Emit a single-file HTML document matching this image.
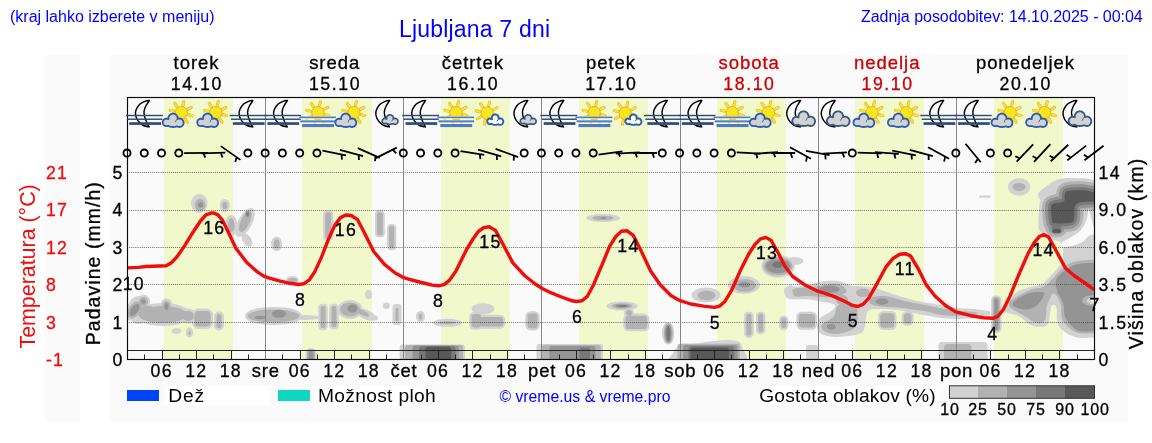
<!DOCTYPE html>
<html lang="sl"><head><meta charset="utf-8"><title>Ljubljana 7 dni</title>
<style>
html,body{margin:0;padding:0;background:#fff;}
body{width:1152px;height:443px;position:relative;overflow:hidden;font-family:"Liberation Sans", sans-serif;}
.hdr{position:absolute;color:#0000ff;white-space:nowrap;line-height:1;}
svg{position:absolute;left:0;top:0;will-change:transform;} svg text{font-family:"Liberation Sans", sans-serif;} .hdr{will-change:transform;}
</style></head><body>
<div class="hdr" style="left:10px;top:9px;font-size:16px;">(kraj lahko izberete v meniju)</div>
<div class="hdr" style="left:399px;top:18.1px;font-size:23px;letter-spacing:0.19px;">Ljubljana 7 dni</div>
<div class="hdr" style="left:861px;top:9px;font-size:16px;letter-spacing:-0.03px;">Zadnja posodobitev: 14.10.2025 - 00:04</div>
<svg width="1152" height="443" viewBox="0 0 1152 443">
<defs>
<clipPath id="sfclip"><rect x="-20" y="98" width="40" height="19"/></clipPath>
<g id="i_mf"><path d="M5.1,100.5C4.4,100.6 2.2,100.7 0.7,101.3C-0.9,101.9 -2.8,102.8 -4.2,104.0C-5.6,105.2 -6.7,106.9 -7.5,108.3C-8.3,109.7 -8.7,111.1 -8.8,112.6C-8.9,114.1 -8.6,115.8 -8.0,117.4C-7.4,119.0 -6.4,120.7 -5.2,122.0C-4.0,123.3 -2.5,124.7 -0.8,125.5C0.9,126.3 4.0,126.7 4.9,126.9L4.9,126.9C4.5,126.2 3.3,124.2 2.6,122.6C1.9,121.0 1.0,119.0 0.5,117.2C0.0,115.4 -0.4,113.6 -0.3,111.8C-0.1,110.0 0.5,108.1 1.4,106.2C2.3,104.3 4.5,101.5 5.1,100.5Z" fill="none" stroke="#000" stroke-width="1.45" stroke-linejoin="round"/><rect x="-18.3" y="114.78" width="36.90" height="1.45" fill="#2e4c74"/><rect x="-16.9" y="118.48" width="35.10" height="1.45" fill="#2e4c74"/><rect x="-15.0" y="122.20" width="31.70" height="2.70" fill="#2e4c74"/></g>
<g id="i_sc"><g><path d="M-5.13,111.10L-8.65,110.35M-2.02,106.39L-4.08,103.44M4.13,105.20L4.94,101.69M9.20,109.09L12.38,107.39M9.84,114.69L13.31,115.62M6.59,119.16L8.55,122.18M0.54,120.17L-0.33,123.66M-4.27,116.55L-7.39,118.35" stroke="#f2a31f" stroke-width="3.0" stroke-linecap="round" fill="none"/><path d="M-5.13,111.10L-8.65,110.35M-2.02,106.39L-4.08,103.44M4.13,105.20L4.94,101.69M9.20,109.09L12.38,107.39M9.84,114.69L13.31,115.62M6.59,119.16L8.55,122.18M0.54,120.17L-0.33,123.66M-4.27,116.55L-7.39,118.35" stroke="#f6e71d" stroke-width="2.1" stroke-linecap="round" fill="none"/><circle cx="2.4" cy="112.7" r="6.2" fill="#f6e71d" stroke="#f2a31f" stroke-width="0.9"/></g><polygon points="4.79,122.43 4.78,123.16 4.64,123.88 4.39,124.57 4.02,125.21 3.53,125.79 2.94,126.28 2.25,126.66 1.47,126.91 0.59,127.00 -0.40,126.88 -1.66,126.33 -2.13,126.39 -2.50,126.52 -2.87,126.63 -3.22,126.72 -3.57,126.80 -3.91,126.86 -4.24,126.91 -4.57,126.94 -4.90,126.97 -5.22,126.99 -5.54,127.00 -5.86,127.00 -6.18,126.99 -6.50,126.97 -6.83,126.94 -7.16,126.91 -7.49,126.86 -7.83,126.80 -8.18,126.72 -8.53,126.63 -8.90,126.52 -9.27,126.39 -9.65,126.24 -10.02,126.06 -10.40,125.84 -11.56,126.09 -12.74,126.17 -13.65,125.97 -14.40,125.59 -15.01,125.10 -15.48,124.51 -15.83,123.85 -16.03,123.15 -16.10,122.43 -16.03,121.71 -15.83,121.01 -15.48,120.35 -15.01,119.76 -14.40,119.26 -13.65,118.89 -12.74,118.68 -11.56,118.76 -10.33,119.06 -10.40,118.49 -10.39,117.90 -10.30,117.32 -10.14,116.74 -9.91,116.18 -9.61,115.66 -9.24,115.17 -8.81,114.74 -8.32,114.36 -7.79,114.06 -7.22,113.83 -6.62,113.67 -6.01,113.60 -5.39,113.62 -4.78,113.72 -4.20,113.89 -3.64,114.15 -3.12,114.48 -2.65,114.87 -2.23,115.32 -1.88,115.82 -1.60,116.36 -1.40,116.92 -1.26,117.50 -1.20,118.09 -1.22,118.67 -0.42,118.59 0.64,118.46 1.55,118.57 2.34,118.85 3.03,119.25 3.61,119.76 4.08,120.35 4.44,121.00 4.68,121.70" fill="#d2d2d2" stroke="#2a5cb2" stroke-width="1.80" stroke-linejoin="round"/><path d="M0.23,118.48A4.20,4.27 0 0 0 -3.51,121.84" fill="none" stroke="#2a5cb2" stroke-width="0.90" stroke-linecap="round"/></g>
<g id="i_sf"><g clip-path="url(#sfclip)"><path d="M-6.63,111.10L-10.15,110.35M-3.52,106.39L-5.58,103.44M2.63,105.20L3.44,101.69M7.70,109.09L10.88,107.39M8.34,114.69L11.81,115.62M5.09,119.16L7.05,122.18M-0.96,120.17L-1.83,123.66M-5.77,116.55L-8.89,118.35" stroke="#f2a31f" stroke-width="3.0" stroke-linecap="round" fill="none"/><path d="M-6.63,111.10L-10.15,110.35M-3.52,106.39L-5.58,103.44M2.63,105.20L3.44,101.69M7.70,109.09L10.88,107.39M8.34,114.69L11.81,115.62M5.09,119.16L7.05,122.18M-0.96,120.17L-1.83,123.66M-5.77,116.55L-8.89,118.35" stroke="#f6e71d" stroke-width="2.1" stroke-linecap="round" fill="none"/><circle cx="0.9" cy="112.7" r="6.2" fill="#f6e71d" stroke="#f2a31f" stroke-width="0.9"/></g><rect x="-13.5" y="116" width="32" height="8.5" fill="#f3f6e2"/><rect x="-11.5" y="118.7" width="3" height="1.1" fill="#f6e71d"/><rect x="-2.5" y="118.7" width="7" height="1.2" fill="#f4c21e"/><rect x="-3.5" y="122.6" width="2.2" height="1.1" fill="#f6e71d"/><rect x="5.5" y="122.6" width="2.2" height="1.1" fill="#f6e71d"/><rect x="-17.8" y="116.55" width="36.80" height="1.6" fill="#4e7bc4"/><rect x="-16.7" y="120.38" width="35.70" height="1.95" fill="#4e7bc4"/><rect x="-14.8" y="124.00" width="31.90" height="3.10" fill="#4e7bc4"/></g>
<g id="i_mc"><path d="M3.7,100.5C3.0,100.6 0.8,100.7 -0.7,101.3C-2.2,101.9 -4.2,102.8 -5.6,104.0C-7.0,105.2 -8.1,106.9 -8.9,108.3C-9.7,109.7 -10.1,111.1 -10.2,112.6C-10.3,114.1 -10.0,115.8 -9.4,117.4C-8.8,119.0 -7.8,120.7 -6.6,122.0C-5.4,123.3 -3.9,124.7 -2.2,125.5C-0.5,126.3 2.6,126.7 3.5,126.9L3.5,126.9C3.1,126.2 1.9,124.2 1.2,122.6C0.5,121.0 -0.4,119.0 -0.9,117.2C-1.4,115.4 -1.8,113.6 -1.7,111.8C-1.6,110.0 -0.9,108.1 0.0,106.2C0.9,104.3 3.1,101.5 3.7,100.5Z" fill="none" stroke="#000" stroke-width="1.45" stroke-linejoin="round"/><polygon points="11.99,121.09 11.98,121.65 11.86,122.19 11.62,122.71 11.29,123.18 10.86,123.58 10.34,123.91 9.74,124.13 9.06,124.24 8.29,124.20 7.32,123.86 6.81,123.80 6.53,123.89 6.26,123.97 6.00,124.03 5.74,124.09 5.50,124.13 5.26,124.17 5.02,124.20 4.79,124.22 4.57,124.23 4.34,124.24 4.12,124.25 3.90,124.25 3.68,124.24 3.46,124.23 3.23,124.22 3.00,124.20 2.77,124.17 2.53,124.13 2.28,124.09 2.03,124.03 1.76,123.97 1.49,123.89 1.21,123.80 0.92,123.68 0.63,123.55 0.34,123.39 -0.78,123.64 -1.67,123.62 -2.35,123.41 -2.90,123.07 -3.34,122.65 -3.65,122.17 -3.84,121.64 -3.90,121.09 -3.84,120.54 -3.65,120.01 -3.34,119.53 -2.90,119.11 -2.35,118.77 -1.67,118.56 -0.78,118.54 0.63,118.98 0.53,118.56 0.49,118.14 0.52,117.72 0.60,117.30 0.73,116.90 0.93,116.52 1.17,116.16 1.45,115.84 1.78,115.56 2.14,115.33 2.53,115.13 2.94,114.99 3.36,114.90 3.79,114.85 4.23,114.86 4.66,114.92 5.08,115.03 5.48,115.20 5.86,115.40 6.21,115.66 6.52,115.95 6.79,116.28 7.01,116.64 7.19,117.03 7.30,117.43 7.37,117.85 7.37,118.27 7.31,118.69 8.28,118.42 9.11,118.38 9.81,118.51 10.42,118.76 10.94,119.10 11.36,119.53 11.68,120.01 11.89,120.54" fill="#d2d2d2" stroke="#34577e" stroke-width="1.60" stroke-linejoin="round"/><path d="M8.60,118.38A3.13,2.94 0 0 0 5.80,120.70" fill="none" stroke="#34577e" stroke-width="0.80" stroke-linecap="round"/></g>
<g id="i_ss"><g><path d="M-10.08,111.50L-13.60,110.75M-6.97,106.79L-9.03,103.84M-0.82,105.60L-0.01,102.09M4.25,109.49L7.43,107.79M4.89,115.09L8.36,116.02M1.64,119.56L3.60,122.58M-4.41,120.57L-5.28,124.06M-9.22,116.95L-12.34,118.75" stroke="#f2a31f" stroke-width="3.0" stroke-linecap="round" fill="none"/><path d="M-10.08,111.50L-13.60,110.75M-6.97,106.79L-9.03,103.84M-0.82,105.60L-0.01,102.09M4.25,109.49L7.43,107.79M4.89,115.09L8.36,116.02M1.64,119.56L3.60,122.58M-4.41,120.57L-5.28,124.06M-9.22,116.95L-12.34,118.75" stroke="#f6e71d" stroke-width="2.1" stroke-linecap="round" fill="none"/><circle cx="-2.55" cy="113.1" r="6.2" fill="#f6e71d" stroke="#f2a31f" stroke-width="0.9"/></g><polygon points="13.64,121.37 13.64,121.93 13.54,122.49 13.35,123.02 13.07,123.51 12.70,123.95 12.25,124.33 11.72,124.62 11.10,124.80 10.39,124.84 9.52,124.65 8.61,124.27 8.32,124.38 8.04,124.48 7.77,124.57 7.50,124.64 7.23,124.69 6.97,124.74 6.72,124.78 6.47,124.81 6.22,124.83 5.98,124.84 5.73,124.85 5.49,124.85 5.25,124.84 5.00,124.83 4.75,124.81 4.50,124.78 4.25,124.74 3.99,124.69 3.73,124.64 3.46,124.57 3.18,124.48 2.90,124.38 2.61,124.27 2.33,124.13 2.04,123.96 1.77,123.77 0.30,124.19 -0.45,124.07 -1.05,123.79 -1.52,123.42 -1.88,122.96 -2.14,122.46 -2.30,121.93 -2.35,121.37 -2.30,120.82 -2.14,120.28 -1.88,119.78 -1.52,119.33 -1.05,118.95 -0.45,118.67 0.30,118.55 2.40,119.37 2.26,118.94 2.18,118.49 2.14,118.03 2.17,117.55 2.26,117.08 2.41,116.63 2.62,116.19 2.89,115.79 3.21,115.42 3.57,115.10 3.98,114.84 4.42,114.65 4.89,114.51 5.37,114.45 5.85,114.47 6.33,114.55 6.79,114.70 7.22,114.92 7.61,115.20 7.97,115.54 8.27,115.92 8.52,116.33 8.71,116.78 8.84,117.24 8.91,117.71 8.91,118.18 8.87,118.64 9.35,118.66 10.38,118.39 11.13,118.44 11.76,118.63 12.30,118.94 12.74,119.33 13.10,119.78 13.37,120.28 13.55,120.82" fill="#ffffff" stroke="#2a5cb2" stroke-width="1.90" stroke-linejoin="round"/><path d="M10.31,118.40A3.07,3.23 0 0 0 7.57,120.95" fill="none" stroke="#2a5cb2" stroke-width="0.95" stroke-linecap="round"/></g>
<g id="i_mb"><path d="M0.2,100.5C-0.5,100.6 -2.7,100.7 -4.2,101.3C-5.8,101.9 -7.7,102.8 -9.1,104.0C-10.5,105.2 -11.6,106.9 -12.4,108.3C-13.2,109.7 -13.6,111.1 -13.7,112.6C-13.8,114.1 -13.5,115.8 -12.9,117.4C-12.3,119.0 -11.3,120.7 -10.1,122.0C-8.9,123.3 -7.4,124.7 -5.7,125.5C-4.0,126.3 -1.0,126.7 0.0,126.9L0.0,126.9C-0.4,126.2 -1.6,124.2 -2.3,122.6C-3.0,121.0 -3.9,119.0 -4.4,117.2C-4.9,115.4 -5.4,113.6 -5.2,111.8C-5.0,110.0 -4.4,108.1 -3.5,106.2C-2.6,104.3 -0.4,101.5 0.2,100.5Z" fill="none" stroke="#000" stroke-width="1.45" stroke-linejoin="round"/><polygon points="14.59,120.96 14.58,121.76 14.44,122.54 14.16,123.29 13.77,123.99 13.25,124.62 12.62,125.16 11.89,125.58 11.06,125.87 10.13,126.00 9.09,125.91 7.86,125.46 7.12,125.32 6.71,125.46 6.31,125.58 5.92,125.69 5.54,125.77 5.17,125.84 4.80,125.89 4.44,125.94 4.08,125.97 3.72,125.99 3.37,126.00 3.02,126.00 2.67,125.99 2.31,125.97 1.96,125.94 1.59,125.89 1.22,125.84 0.85,125.77 0.47,125.69 0.08,125.58 -0.32,125.46 -0.73,125.32 -1.14,125.14 -1.55,124.94 -1.96,124.70 -3.37,125.06 -4.56,125.08 -5.51,124.84 -6.30,124.42 -6.94,123.87 -7.45,123.22 -7.81,122.51 -8.03,121.74 -8.10,120.96 -8.03,120.18 -7.81,119.41 -7.45,118.70 -6.94,118.05 -6.30,117.50 -5.51,117.08 -4.56,116.84 -3.37,116.86 -1.88,117.27 -1.94,116.65 -1.93,116.01 -1.84,115.37 -1.66,114.74 -1.41,114.13 -1.08,113.56 -0.67,113.03 -0.20,112.55 0.33,112.14 0.91,111.80 1.54,111.55 2.19,111.38 2.86,111.31 3.53,111.32 4.20,111.43 4.84,111.62 5.45,111.90 6.02,112.26 6.54,112.70 6.99,113.19 7.37,113.73 7.67,114.32 7.90,114.94 8.05,115.57 8.12,116.21 8.11,116.84 9.10,116.67 10.20,116.58 11.15,116.73 11.99,117.04 12.72,117.49 13.34,118.05 13.84,118.70 14.22,119.41 14.47,120.17" fill="#d2d2d2" stroke="#34577e" stroke-width="1.80" stroke-linejoin="round"/><path d="M9.59,116.60A4.60,4.71 0 0 0 5.49,120.31" fill="none" stroke="#34577e" stroke-width="0.90" stroke-linecap="round"/></g>
<clipPath id="plotclip"><rect x="127.0" y="97.0" width="967.0" height="262.0"/></clipPath>
</defs>
<rect x="45" y="55" width="35" height="367" fill="#fafafa"/>
<rect x="110" y="55" width="1018" height="367" fill="#fafafa"/>
<rect x="164" y="97.0" width="69" height="262.0" fill="#f0f8cc"/>
<rect x="302" y="97.0" width="70" height="262.0" fill="#f0f8cc"/>
<rect x="441" y="97.0" width="69" height="262.0" fill="#f0f8cc"/>
<rect x="579" y="97.0" width="69" height="262.0" fill="#f0f8cc"/>
<rect x="717" y="97.0" width="69" height="262.0" fill="#f0f8cc"/>
<rect x="855" y="97.0" width="69" height="262.0" fill="#f0f8cc"/>
<rect x="994" y="97.0" width="69" height="262.0" fill="#f0f8cc"/>
<g clip-path="url(#plotclip)">
<ellipse cx="139" cy="310" rx="11.5" ry="14" fill="#d2d2d2" stroke="#d2d2d2" stroke-width="0.00" stroke-linejoin="round"/>
<ellipse cx="134.5" cy="310" rx="3.5" ry="7" fill="#d2d2d2" stroke="#d2d2d2" stroke-width="9.20" stroke-linejoin="round" transform="rotate(35 134.5 310)"/>
<ellipse cx="143.5" cy="301.5" rx="2.3" ry="2.3" fill="#d2d2d2" stroke="#d2d2d2" stroke-width="8.80" stroke-linejoin="round"/>
<ellipse cx="163" cy="314.5" rx="24" ry="8.5" fill="#d2d2d2" stroke="#d2d2d2" stroke-width="6.00" stroke-linejoin="round"/>
<ellipse cx="147" cy="313" rx="9" ry="7.5" fill="#d2d2d2" stroke="#d2d2d2" stroke-width="0.00" stroke-linejoin="round"/>
<ellipse cx="166.5" cy="306.5" rx="2" ry="3.5" fill="#d2d2d2" stroke="#d2d2d2" stroke-width="8.80" stroke-linejoin="round"/>
<rect x="194.5" y="311" width="16.00" height="15.50" rx="4" fill="#d2d2d2" stroke="#d2d2d2" stroke-width="5.00" stroke-linejoin="round"/>
<ellipse cx="188" cy="316" rx="6" ry="5" fill="#d2d2d2" stroke="#d2d2d2" stroke-width="5.00" stroke-linejoin="round"/>
<rect x="216.5" y="314" width="5.00" height="14.00" rx="2.5" fill="#d2d2d2" stroke="#d2d2d2" stroke-width="5.00" stroke-linejoin="round"/>
<ellipse cx="176.5" cy="331" rx="5" ry="3" fill="#d2d2d2" stroke="#d2d2d2" stroke-width="0.00" stroke-linejoin="round"/>
<ellipse cx="189.5" cy="332.5" rx="3.6" ry="5" fill="#d2d2d2" stroke="#d2d2d2" stroke-width="0.00" stroke-linejoin="round"/>
<ellipse cx="189.5" cy="333" rx="1.2" ry="2" fill="#d2d2d2" stroke="#d2d2d2" stroke-width="0.00" stroke-linejoin="round"/>
<ellipse cx="273.5" cy="316" rx="26" ry="6.5" fill="#d2d2d2" stroke="#d2d2d2" stroke-width="5.00" stroke-linejoin="round"/>
<ellipse cx="260" cy="317.5" rx="5" ry="1.8" fill="#d2d2d2" stroke="#d2d2d2" stroke-width="0.00" stroke-linejoin="round"/>
<ellipse cx="279" cy="313.8" rx="7" ry="4" fill="#d2d2d2" stroke="#d2d2d2" stroke-width="0.00" stroke-linejoin="round"/>
<ellipse cx="306" cy="317.5" rx="13" ry="2.5" fill="#d2d2d2" stroke="#d2d2d2" stroke-width="0.00" stroke-linejoin="round"/>
<ellipse cx="292.4" cy="280.3" rx="4.5" ry="2.3" fill="#d2d2d2" stroke="#d2d2d2" stroke-width="4.00" stroke-linejoin="round"/>
<rect x="320.5" y="306" width="5.00" height="22.00" rx="2" fill="#d2d2d2" stroke="#d2d2d2" stroke-width="4.60" stroke-linejoin="round"/>
<rect x="331.5" y="306" width="5.00" height="21.00" rx="2" fill="#d2d2d2" stroke="#d2d2d2" stroke-width="4.60" stroke-linejoin="round"/>
<ellipse cx="350" cy="309.5" rx="10" ry="7" fill="#d2d2d2" stroke="#d2d2d2" stroke-width="5.00" stroke-linejoin="round"/>
<ellipse cx="352.5" cy="308.5" rx="5" ry="4" fill="#d2d2d2" stroke="#d2d2d2" stroke-width="0.00" stroke-linejoin="round"/>
<ellipse cx="366" cy="314.5" rx="11" ry="4.8" fill="#d2d2d2" stroke="#d2d2d2" stroke-width="0.00" stroke-linejoin="round" transform="rotate(25 366 314.5)"/>
<ellipse cx="362" cy="312.5" rx="8" ry="2.6" fill="#d2d2d2" stroke="#d2d2d2" stroke-width="0.00" stroke-linejoin="round" transform="rotate(25 362 312.5)"/>
<ellipse cx="368.5" cy="294.5" rx="3.5" ry="4.5" fill="#d2d2d2" stroke="#d2d2d2" stroke-width="0.00" stroke-linejoin="round"/>
<rect x="308.5" y="351" width="5.00" height="11.00" rx="2" fill="#d2d2d2" stroke="#d2d2d2" stroke-width="6.00" stroke-linejoin="round"/>
<ellipse cx="386.3" cy="305.8" rx="3.5" ry="3.2" fill="#d2d2d2" stroke="#d2d2d2" stroke-width="0.00" stroke-linejoin="round"/>
<rect x="392.5" y="304" width="9.00" height="21.00" rx="3" fill="#d2d2d2" stroke="#d2d2d2" stroke-width="0.00" stroke-linejoin="round"/>
<rect x="395.5" y="308" width="3.00" height="13.00" rx="1.5" fill="#d2d2d2" stroke="#d2d2d2" stroke-width="0.00" stroke-linejoin="round"/>
<ellipse cx="420.5" cy="316.5" rx="4.5" ry="5.5" fill="#d2d2d2" stroke="#d2d2d2" stroke-width="0.00" stroke-linejoin="round"/>
<ellipse cx="420.5" cy="316.5" rx="2" ry="3" fill="#d2d2d2" stroke="#d2d2d2" stroke-width="0.00" stroke-linejoin="round"/>
<ellipse cx="375" cy="318" rx="3" ry="2.5" fill="#d2d2d2" stroke="#d2d2d2" stroke-width="0.00" stroke-linejoin="round"/>
<ellipse cx="447.5" cy="322.8" rx="14.5" ry="4" fill="#d2d2d2" stroke="#d2d2d2" stroke-width="0.00" stroke-linejoin="round"/>
<ellipse cx="447" cy="322.8" rx="9.5" ry="1.5" fill="#d2d2d2" stroke="#d2d2d2" stroke-width="0.00" stroke-linejoin="round"/>
<ellipse cx="483" cy="308.8" rx="11.5" ry="5.6" fill="#d2d2d2" stroke="#d2d2d2" stroke-width="0.00" stroke-linejoin="round"/>
<rect x="471.5" y="314" width="9.50" height="13.50" rx="3" fill="#d2d2d2" stroke="#d2d2d2" stroke-width="4.60" stroke-linejoin="round"/>
<rect x="480" y="317" width="23.00" height="9.50" rx="3" fill="#d2d2d2" stroke="#d2d2d2" stroke-width="4.60" stroke-linejoin="round"/>
<rect x="399.7" y="344.4" width="65.30" height="19.60" rx="3" fill="#d2d2d2" stroke="#d2d2d2" stroke-width="0.00" stroke-linejoin="round"/>
<rect x="405" y="345" width="58.00" height="19.00" rx="3" fill="#d2d2d2" stroke="#d2d2d2" stroke-width="0.00" stroke-linejoin="round"/>
<rect x="412.5" y="345.6" width="46.20" height="18.40" rx="3" fill="#d2d2d2" stroke="#d2d2d2" stroke-width="0.00" stroke-linejoin="round"/>
<rect x="419" y="346.2" width="36.50" height="17.80" rx="3" fill="#d2d2d2" stroke="#d2d2d2" stroke-width="0.00" stroke-linejoin="round"/>
<rect x="425.4" y="346.8" width="25.80" height="17.20" rx="3" fill="#d2d2d2" stroke="#d2d2d2" stroke-width="0.00" stroke-linejoin="round"/>
<rect x="527.5" y="313.5" width="10.00" height="14.80" rx="3" fill="#d2d2d2" stroke="#d2d2d2" stroke-width="4.40" stroke-linejoin="round"/>
<ellipse cx="622" cy="306" rx="15.5" ry="4.5" fill="#d2d2d2" stroke="#d2d2d2" stroke-width="0.00" stroke-linejoin="round"/>
<ellipse cx="622" cy="306" rx="10.5" ry="2.8" fill="#d2d2d2" stroke="#d2d2d2" stroke-width="0.00" stroke-linejoin="round"/>
<ellipse cx="622" cy="306" rx="7" ry="1.6" fill="#d2d2d2" stroke="#d2d2d2" stroke-width="0.00" stroke-linejoin="round"/>
<ellipse cx="622.5" cy="306" rx="4" ry="0.8" fill="#d2d2d2" stroke="#d2d2d2" stroke-width="0.00" stroke-linejoin="round"/>
<rect x="625.5" y="315.8" width="21.50" height="13.20" rx="3" fill="#d2d2d2" stroke="#d2d2d2" stroke-width="4.60" stroke-linejoin="round"/>
<ellipse cx="629" cy="313" rx="3" ry="3" fill="#d2d2d2" stroke="#d2d2d2" stroke-width="4.00" stroke-linejoin="round"/>
<rect x="536.5" y="344" width="66.50" height="20.00" rx="3" fill="#d2d2d2" stroke="#d2d2d2" stroke-width="0.00" stroke-linejoin="round"/>
<rect x="541.8" y="345" width="59.00" height="19.00" rx="3" fill="#d2d2d2" stroke="#d2d2d2" stroke-width="0.00" stroke-linejoin="round"/>
<rect x="549.3" y="346" width="46.20" height="18.00" rx="3" fill="#d2d2d2" stroke="#d2d2d2" stroke-width="0.00" stroke-linejoin="round"/>
<rect x="579.4" y="347.6" width="10.60" height="16.40" rx="2" fill="#d2d2d2" stroke="#d2d2d2" stroke-width="0.00" stroke-linejoin="round"/>
<ellipse cx="668" cy="333" rx="6.2" ry="10.5" fill="#d2d2d2" stroke="#d2d2d2" stroke-width="0.00" stroke-linejoin="round"/>
<ellipse cx="668.3" cy="333.5" rx="2" ry="7.5" fill="#d2d2d2" stroke="#d2d2d2" stroke-width="7.20" stroke-linejoin="round"/>
<ellipse cx="706" cy="295" rx="14.5" ry="7.5" fill="#d2d2d2" stroke="#d2d2d2" stroke-width="0.00" stroke-linejoin="round"/>
<ellipse cx="706.5" cy="295.5" rx="9" ry="4.8" fill="#d2d2d2" stroke="#d2d2d2" stroke-width="0.00" stroke-linejoin="round"/>
<ellipse cx="744" cy="285" rx="16" ry="9" fill="#d2d2d2" stroke="#d2d2d2" stroke-width="0.00" stroke-linejoin="round"/>
<ellipse cx="744.6" cy="285.4" rx="11.3" ry="6.4" fill="#d2d2d2" stroke="#d2d2d2" stroke-width="0.00" stroke-linejoin="round"/>
<ellipse cx="744.6" cy="284.8" rx="5.9" ry="2.8" fill="#d2d2d2" stroke="#d2d2d2" stroke-width="0.00" stroke-linejoin="round"/>
<rect x="746.3" y="314" width="5.20" height="21.50" rx="2" fill="#d2d2d2" stroke="#d2d2d2" stroke-width="4.40" stroke-linejoin="round"/>
<rect x="758.2" y="314" width="5.00" height="18.00" rx="2" fill="#d2d2d2" stroke="#d2d2d2" stroke-width="4.40" stroke-linejoin="round"/>
<rect x="781.3" y="318" width="4.70" height="10.00" rx="2" fill="#d2d2d2" stroke="#d2d2d2" stroke-width="4.40" stroke-linejoin="round"/>
<path d="M673.0,353.0C674.0,350.2 674.5,348.7 679.0,347.0C683.5,345.3 692.8,344.1 700.0,343.0C707.2,341.9 715.8,340.6 722.0,340.3C728.2,340.0 733.7,339.9 737.0,341.0C740.3,342.1 741.2,343.2 742.0,347.0C742.8,350.8 753.5,361.2 742.0,364.0C730.5,366.8 684.5,365.8 673.0,364.0C661.5,362.2 672.0,355.8 673.0,353.0Z" fill="#d2d2d2" stroke="#d2d2d2" stroke-width="0.00" stroke-linejoin="round"/>
<rect x="677.5" y="343.8" width="62.30" height="20.20" rx="3" fill="#d2d2d2" stroke="#d2d2d2" stroke-width="0.00" stroke-linejoin="round"/>
<rect x="683" y="345" width="54.60" height="19.00" rx="3" fill="#d2d2d2" stroke="#d2d2d2" stroke-width="0.00" stroke-linejoin="round"/>
<rect x="688.3" y="346.2" width="46.10" height="17.80" rx="3" fill="#d2d2d2" stroke="#d2d2d2" stroke-width="0.00" stroke-linejoin="round"/>
<rect x="690.4" y="347.6" width="38.60" height="16.40" rx="3" fill="#d2d2d2" stroke="#d2d2d2" stroke-width="0.00" stroke-linejoin="round"/>
<ellipse cx="778" cy="266.3" rx="12.3" ry="7" fill="#d2d2d2" stroke="#d2d2d2" stroke-width="8.80" stroke-linejoin="round"/>
<ellipse cx="777.6" cy="264.8" rx="5.4" ry="3.2" fill="#d2d2d2" stroke="#d2d2d2" stroke-width="0.00" stroke-linejoin="round"/>
<ellipse cx="795" cy="261" rx="8.5" ry="4" fill="#d2d2d2" stroke="#d2d2d2" stroke-width="0.00" stroke-linejoin="round"/>
<path d="M784.0,290.0C784.5,287.8 788.2,285.6 790.0,285.0C791.8,284.4 792.0,286.4 795.0,286.5C798.0,286.6 803.6,286.2 807.9,285.4C812.2,284.6 815.8,282.4 820.8,281.7C825.8,281.0 832.9,280.5 837.9,281.1C842.9,281.7 846.1,284.5 850.8,285.4C855.4,286.3 860.8,285.8 865.8,286.5C870.8,287.2 875.8,288.3 880.8,289.7C885.8,291.1 890.2,293.2 895.9,295.0C901.6,296.8 909.1,299.0 915.2,300.4C921.3,301.8 927.3,302.7 932.3,303.6C937.3,304.5 941.0,305.1 945.0,305.8C949.0,306.5 951.7,307.5 956.5,308.0C961.3,308.5 968.2,308.5 973.6,309.0C979.0,309.5 985.9,310.4 988.6,311.1C991.3,311.8 990.0,312.3 990.0,313.0C990.0,313.7 992.4,314.5 988.6,315.4C984.8,316.3 974.0,318.1 967.2,318.6C960.4,319.1 953.7,319.0 947.9,318.6C942.1,318.2 937.8,317.4 932.3,316.5C926.8,315.6 920.9,314.4 915.2,313.3C909.5,312.2 903.7,310.7 898.0,310.0C892.3,309.3 885.8,308.8 880.8,309.0C875.8,309.2 870.7,308.1 868.0,311.1C865.3,314.1 866.1,323.4 864.7,327.2C863.3,331.0 863.9,332.1 859.4,333.7C854.9,335.3 844.0,336.7 837.9,336.9C831.8,337.1 826.3,336.1 822.9,334.7C819.5,333.3 818.0,331.0 817.5,328.3C817.0,325.6 817.4,321.5 819.7,318.6C822.0,315.7 829.0,313.4 831.5,311.1C834.0,308.8 836.5,306.3 834.7,304.7C832.9,303.1 825.3,302.4 820.8,301.5C816.3,300.6 812.2,299.7 807.9,299.3C803.6,298.9 798.5,299.5 795.0,299.3C791.5,299.1 788.8,299.6 787.0,298.0C785.2,296.4 783.5,292.2 784.0,290.0Z" fill="#d2d2d2" stroke="#d2d2d2" stroke-width="0.00" stroke-linejoin="round"/>
<path d="M793.0,293.0C792.8,291.7 791.1,289.7 795.0,288.6C798.9,287.5 810.8,287.3 816.5,286.5C822.2,285.7 825.2,284.1 829.3,283.9C833.4,283.7 838.2,284.2 841.1,285.4C844.0,286.5 846.5,289.2 846.5,290.8C846.5,292.4 844.3,293.9 841.1,295.0C837.9,296.1 832.7,297.0 827.2,297.2C821.7,297.4 813.1,296.2 807.9,296.1C802.7,296.0 798.5,297.0 796.0,296.5C793.5,296.0 793.2,294.3 793.0,293.0Z" fill="#d2d2d2" stroke="#d2d2d2" stroke-width="0.00" stroke-linejoin="round"/>
<ellipse cx="829.3" cy="289.2" rx="10.5" ry="3.5" fill="#d2d2d2" stroke="#d2d2d2" stroke-width="0.00" stroke-linejoin="round"/>
<ellipse cx="863" cy="292.8" rx="7" ry="4.2" fill="#d2d2d2" stroke="#d2d2d2" stroke-width="0.00" stroke-linejoin="round"/>
<path d="M871.2,297.2C873.9,296.4 879.9,295.6 885.1,296.1C890.3,296.6 895.8,299.0 902.3,300.4C908.8,301.8 916.7,303.3 923.8,304.7C930.9,306.1 939.5,308.0 945.0,309.0C950.5,310.0 951.4,309.9 956.5,310.5C961.6,311.1 972.4,312.0 975.8,312.6C979.2,313.2 978.4,313.5 977.0,314.0C975.6,314.5 972.5,315.2 967.2,315.4C961.9,315.6 952.2,316.1 945.0,315.4C937.8,314.7 930.9,312.4 923.8,311.1C916.7,309.9 908.8,308.6 902.3,307.9C895.8,307.2 890.1,307.3 885.1,306.8C880.1,306.3 875.0,305.7 872.3,304.7C869.6,303.7 869.2,302.2 869.0,301.0C868.8,299.8 868.5,298.0 871.2,297.2Z" fill="#d2d2d2" stroke="#d2d2d2" stroke-width="0.00" stroke-linejoin="round"/>
<ellipse cx="881.9" cy="301.5" rx="6.4" ry="3.2" fill="#d2d2d2" stroke="#d2d2d2" stroke-width="0.00" stroke-linejoin="round"/>
<path d="M857.2,310.0C858.3,313.9 858.2,323.2 855.0,327.2C851.8,331.1 842.9,333.0 837.9,333.7C832.9,334.4 827.7,332.9 825.0,331.5C822.3,330.1 820.4,327.5 821.8,325.0C823.2,322.5 830.9,319.7 833.6,316.5C836.3,313.3 835.4,307.9 837.9,305.8C840.4,303.7 845.4,302.9 848.6,303.6C851.8,304.3 856.1,306.1 857.2,310.0Z" fill="#d2d2d2" stroke="#d2d2d2" stroke-width="0.00" stroke-linejoin="round"/>
<ellipse cx="831.4" cy="326.7" rx="4.4" ry="2.7" fill="#d2d2d2" stroke="#d2d2d2" stroke-width="0.00" stroke-linejoin="round"/>
<ellipse cx="842" cy="300" rx="6" ry="5" fill="#d2d2d2" stroke="#d2d2d2" stroke-width="0.00" stroke-linejoin="round"/>
<rect x="798.5" y="314" width="16.50" height="13.50" rx="3" fill="#d2d2d2" stroke="#d2d2d2" stroke-width="4.40" stroke-linejoin="round"/>
<rect x="880.3" y="313.2" width="14.00" height="14.60" rx="3" fill="#d2d2d2" stroke="#d2d2d2" stroke-width="4.40" stroke-linejoin="round"/>
<rect x="903.8" y="313.2" width="7.70" height="10.40" rx="3" fill="#d2d2d2" stroke="#d2d2d2" stroke-width="4.40" stroke-linejoin="round"/>
<rect x="806" y="345" width="12.00" height="19.00" rx="3" fill="#d2d2d2" stroke="#d2d2d2" stroke-width="0.00" stroke-linejoin="round"/>
<rect x="994.3" y="298.5" width="4.00" height="31.50" rx="2" fill="#d2d2d2" stroke="#d2d2d2" stroke-width="6.40" stroke-linejoin="round"/>
<rect x="938.5" y="342" width="49.00" height="22.00" rx="4" fill="#d2d2d2" stroke="#d2d2d2" stroke-width="0.00" stroke-linejoin="round"/>
<rect x="944" y="344" width="27.50" height="20.00" rx="4" fill="#d2d2d2" stroke="#d2d2d2" stroke-width="0.00" stroke-linejoin="round"/>
<ellipse cx="1019.1" cy="186.9" rx="6.5" ry="4" fill="#d2d2d2" stroke="#d2d2d2" stroke-width="9.20" stroke-linejoin="round"/>
<rect x="979" y="195.6" width="11.50" height="2.20" rx="1" fill="#d2d2d2" stroke="#d2d2d2" stroke-width="0.00" stroke-linejoin="round"/>
<path d="M1050.4,183.5C1053.7,181.4 1054.7,180.1 1058.9,179.3C1063.1,178.5 1069.1,177.6 1075.8,178.5C1082.5,179.4 1093.0,183.8 1099.0,185.0C1105.0,186.2 1109.8,160.6 1112.0,186.0C1114.2,211.4 1114.2,312.2 1112.0,337.4C1109.8,362.6 1104.9,337.4 1099.0,337.4C1093.1,337.4 1082.8,338.5 1076.8,337.4C1070.8,336.3 1066.5,333.1 1063.3,330.7C1060.1,328.3 1058.7,326.7 1057.6,323.0C1056.5,319.3 1057.2,311.6 1056.6,308.6C1055.9,305.6 1054.7,305.0 1053.7,304.8C1052.8,304.6 1051.9,304.4 1050.9,307.6C1050.0,310.8 1050.1,320.7 1048.0,323.9C1045.9,327.1 1041.6,326.8 1038.4,326.8C1035.2,326.8 1032.0,325.6 1028.8,323.9C1025.6,322.1 1023.0,318.2 1019.2,316.3C1015.4,314.4 1008.4,313.4 1005.8,312.4C1003.2,311.4 1002.2,313.7 1003.8,310.5C1005.4,307.3 1011.2,297.0 1015.4,293.2C1019.6,289.4 1024.4,289.0 1028.8,287.5C1033.2,286.0 1038.3,286.2 1041.9,284.3C1045.5,282.4 1047.9,278.6 1050.4,276.0C1052.9,273.4 1054.8,271.2 1056.8,268.9C1058.8,266.6 1061.6,264.5 1062.6,262.0C1063.6,259.5 1062.9,256.5 1063.0,254.0C1063.1,251.5 1063.5,249.0 1063.0,247.0C1062.5,245.0 1061.8,243.4 1060.0,242.0C1058.2,240.6 1055.1,239.9 1052.1,238.5C1049.1,237.1 1044.2,235.6 1041.9,233.5C1039.6,231.4 1038.9,230.0 1038.5,225.9C1038.1,221.8 1038.8,212.9 1039.4,208.9C1040.0,204.9 1042.1,204.2 1041.9,202.2C1041.8,200.2 1038.9,198.8 1038.5,197.1C1038.1,195.4 1037.4,194.3 1039.4,192.0C1041.4,189.7 1047.2,185.6 1050.4,183.5Z" fill="#d2d2d2" stroke="#d2d2d2" stroke-width="0.00" stroke-linejoin="round"/>
<path d="M1112.0,259.7C1109.8,247.5 1104.2,259.5 1099.0,259.7C1093.8,259.9 1085.6,260.0 1080.9,260.6C1076.2,261.2 1074.0,261.7 1070.7,263.1C1067.5,264.5 1064.2,266.6 1061.4,269.0C1058.6,271.4 1056.7,274.6 1053.8,277.5C1050.9,280.4 1048.3,284.4 1044.1,286.5C1039.9,288.6 1034.2,288.1 1028.8,290.4C1023.4,292.6 1014.8,297.6 1011.5,300.0C1008.2,302.4 1009.0,303.1 1009.0,304.5C1009.0,305.9 1008.8,306.6 1011.5,308.6C1014.2,310.6 1020.8,313.9 1025.0,316.3C1029.2,318.7 1033.2,322.4 1036.5,323.0C1039.8,323.6 1043.3,323.0 1045.1,320.1C1046.8,317.2 1045.6,310.2 1047.0,305.7C1048.4,301.2 1051.5,293.5 1053.7,293.2C1056.0,292.9 1059.0,299.3 1060.5,303.8C1062.0,308.3 1060.3,315.6 1062.4,320.1C1064.5,324.6 1069.6,328.5 1072.9,330.7C1076.2,332.9 1078.2,333.2 1082.5,333.5C1086.8,333.8 1094.1,332.8 1099.0,332.6C1103.9,332.5 1109.8,344.8 1112.0,332.6C1114.2,320.5 1114.2,271.9 1112.0,259.7Z" fill="#d2d2d2" stroke="#d2d2d2" stroke-width="0.00" stroke-linejoin="round"/>
<path d="M1112.0,263.0C1109.8,251.9 1104.2,262.9 1099.0,263.0C1093.8,263.1 1085.5,263.0 1081.0,263.5C1076.5,264.0 1074.9,264.7 1072.0,266.0C1069.1,267.3 1065.9,269.7 1063.5,271.5C1061.1,273.3 1058.9,275.1 1057.6,277.0C1056.3,278.9 1055.7,280.1 1055.7,282.7C1055.7,285.2 1056.3,288.8 1057.6,292.3C1058.9,295.8 1062.0,299.7 1063.3,303.8C1064.6,307.9 1063.4,313.1 1065.3,317.2C1067.2,321.3 1071.7,326.3 1074.9,328.7C1078.1,331.1 1080.5,331.4 1084.5,331.6C1088.5,331.8 1094.4,330.0 1099.0,329.7C1103.6,329.4 1109.8,340.8 1112.0,329.7C1114.2,318.6 1114.2,274.1 1112.0,263.0Z" fill="#d2d2d2" stroke="#d2d2d2" stroke-width="0.00" stroke-linejoin="round"/>
<path d="M1012.5,303.8C1012.8,302.1 1016.2,299.9 1019.2,298.0C1022.2,296.1 1026.7,293.6 1030.7,292.7C1034.7,291.8 1041.1,291.6 1043.2,292.3C1045.3,293.0 1044.3,294.9 1043.2,297.1C1042.1,299.3 1039.2,303.6 1036.5,305.7C1033.8,307.8 1030.1,309.1 1026.9,309.5C1023.7,309.9 1019.7,308.9 1017.3,308.0C1014.9,307.1 1012.2,305.5 1012.5,303.8Z" fill="#d2d2d2" stroke="#d2d2d2" stroke-width="0.00" stroke-linejoin="round"/>
<path d="M1067.3,191.2C1070.3,190.3 1077.3,190.0 1082.6,190.3C1087.9,190.6 1094.1,192.5 1099.0,192.9C1103.9,193.3 1109.8,191.6 1112.0,193.0C1114.2,194.4 1114.2,199.9 1112.0,201.3C1109.8,202.7 1104.2,201.2 1099.0,201.3C1093.8,201.5 1084.9,201.3 1080.9,202.2C1076.9,203.0 1076.0,203.9 1074.9,206.4C1073.8,208.9 1074.8,214.7 1074.1,217.4C1073.4,220.1 1074.0,221.5 1070.7,222.5C1067.5,223.5 1057.7,223.6 1054.6,223.3C1051.5,223.0 1052.7,223.3 1052.1,220.8C1051.5,218.3 1051.1,210.9 1051.2,208.1C1051.3,205.3 1050.8,205.0 1052.9,203.9C1055.0,202.8 1061.9,202.7 1063.9,201.3C1065.9,199.9 1064.2,197.1 1064.8,195.4C1065.4,193.7 1064.3,192.0 1067.3,191.2Z" fill="#d2d2d2" stroke="#d2d2d2" stroke-width="24.00" stroke-linejoin="round"/>
<ellipse cx="1056.5" cy="228" rx="5" ry="3.5" fill="#d2d2d2" stroke="#d2d2d2" stroke-width="18.00" stroke-linejoin="round"/>
<ellipse cx="1056.7" cy="231" rx="4.5" ry="2" fill="#d2d2d2" stroke="#d2d2d2" stroke-width="0.00" stroke-linejoin="round"/>
<ellipse cx="199.3" cy="203.5" rx="8.3" ry="9.5" fill="#d2d2d2" stroke="#d2d2d2" stroke-width="0.00" stroke-linejoin="round"/>
<ellipse cx="200.1" cy="204.9" rx="5.4" ry="5.9" fill="#d2d2d2" stroke="#d2d2d2" stroke-width="0.00" stroke-linejoin="round"/>
<ellipse cx="200.6" cy="204.9" rx="2.7" ry="2.7" fill="#d2d2d2" stroke="#d2d2d2" stroke-width="0.00" stroke-linejoin="round"/>
<ellipse cx="224.8" cy="205.4" rx="5" ry="6.4" fill="#d2d2d2" stroke="#d2d2d2" stroke-width="0.00" stroke-linejoin="round"/>
<ellipse cx="224.8" cy="205.6" rx="2.6" ry="3.6" fill="#d2d2d2" stroke="#d2d2d2" stroke-width="0.00" stroke-linejoin="round"/>
<ellipse cx="231.2" cy="225.8" rx="6.4" ry="10.7" fill="#d2d2d2" stroke="#d2d2d2" stroke-width="0.00" stroke-linejoin="round"/>
<ellipse cx="231.2" cy="225.3" rx="3.2" ry="7" fill="#d2d2d2" stroke="#d2d2d2" stroke-width="0.00" stroke-linejoin="round"/>
<ellipse cx="245.0" cy="222.5" rx="7" ry="16" fill="#d2d2d2" stroke="#d2d2d2" stroke-width="0.00" stroke-linejoin="round" transform="rotate(28 245.0 222.5)"/>
<ellipse cx="245.3" cy="221.5" rx="4.4" ry="11.5" fill="#d2d2d2" stroke="#d2d2d2" stroke-width="0.00" stroke-linejoin="round" transform="rotate(25 245.3 221.5)"/>
<ellipse cx="247.5" cy="214" rx="2" ry="3" fill="#d2d2d2" stroke="#d2d2d2" stroke-width="0.00" stroke-linejoin="round"/>
<ellipse cx="247.7" cy="214" rx="1" ry="1.5" fill="#d2d2d2" stroke="#d2d2d2" stroke-width="0.00" stroke-linejoin="round"/>
<ellipse cx="247" cy="240" rx="4.3" ry="7.5" fill="#d2d2d2" stroke="#d2d2d2" stroke-width="0.00" stroke-linejoin="round" transform="rotate(-30 247 240)"/>
<ellipse cx="276.6" cy="243.8" rx="5.6" ry="7.3" fill="#d2d2d2" stroke="#d2d2d2" stroke-width="0.00" stroke-linejoin="round"/>
<ellipse cx="276.6" cy="243.8" rx="3" ry="4.5" fill="#d2d2d2" stroke="#d2d2d2" stroke-width="0.00" stroke-linejoin="round"/>
<rect x="325.2" y="212.5" width="6.00" height="26.00" rx="2" fill="#d2d2d2" stroke="#d2d2d2" stroke-width="4.00" stroke-linejoin="round"/>
<rect x="377" y="212.5" width="5.80" height="22.80" rx="2" fill="#d2d2d2" stroke="#d2d2d2" stroke-width="4.00" stroke-linejoin="round"/>
<rect x="389" y="226" width="5.30" height="22.20" rx="2" fill="#d2d2d2" stroke="#d2d2d2" stroke-width="4.00" stroke-linejoin="round"/>
<ellipse cx="603" cy="218" rx="17" ry="4" fill="#d2d2d2" stroke="#d2d2d2" stroke-width="0.00" stroke-linejoin="round"/>
<ellipse cx="603" cy="218" rx="10.5" ry="2.3" fill="#d2d2d2" stroke="#d2d2d2" stroke-width="0.00" stroke-linejoin="round"/>
<ellipse cx="603.5" cy="218" rx="3" ry="0.9" fill="#d2d2d2" stroke="#d2d2d2" stroke-width="0.00" stroke-linejoin="round"/>
<ellipse cx="134.5" cy="310" rx="3.5" ry="7" fill="#b2b2b2" stroke="#b2b2b2" stroke-width="4.60" stroke-linejoin="round" transform="rotate(35 134.5 310)"/>
<ellipse cx="143.5" cy="301.5" rx="2.3" ry="2.3" fill="#b2b2b2" stroke="#b2b2b2" stroke-width="4.40" stroke-linejoin="round"/>
<ellipse cx="163" cy="314.5" rx="24" ry="8.5" fill="#b2b2b2" stroke="#b2b2b2" stroke-width="0.00" stroke-linejoin="round"/>
<ellipse cx="147" cy="313" rx="9" ry="7.5" fill="#b2b2b2" stroke="#b2b2b2" stroke-width="0.00" stroke-linejoin="round"/>
<ellipse cx="166.5" cy="306.5" rx="2" ry="3.5" fill="#b2b2b2" stroke="#b2b2b2" stroke-width="4.40" stroke-linejoin="round"/>
<rect x="194.5" y="311" width="16.00" height="15.50" rx="4" fill="#b2b2b2" stroke="#b2b2b2" stroke-width="0.00" stroke-linejoin="round"/>
<ellipse cx="188" cy="316" rx="6" ry="5" fill="#b2b2b2" stroke="#b2b2b2" stroke-width="0.00" stroke-linejoin="round"/>
<rect x="216.5" y="314" width="5.00" height="14.00" rx="2.5" fill="#b2b2b2" stroke="#b2b2b2" stroke-width="0.00" stroke-linejoin="round"/>
<ellipse cx="189.5" cy="333" rx="1.2" ry="2" fill="#b2b2b2" stroke="#b2b2b2" stroke-width="0.00" stroke-linejoin="round"/>
<ellipse cx="273.5" cy="316" rx="26" ry="6.5" fill="#b2b2b2" stroke="#b2b2b2" stroke-width="0.00" stroke-linejoin="round"/>
<ellipse cx="260" cy="317.5" rx="5" ry="1.8" fill="#b2b2b2" stroke="#b2b2b2" stroke-width="0.00" stroke-linejoin="round"/>
<ellipse cx="279" cy="313.8" rx="7" ry="4" fill="#b2b2b2" stroke="#b2b2b2" stroke-width="0.00" stroke-linejoin="round"/>
<ellipse cx="292.4" cy="280.3" rx="4.5" ry="2.3" fill="#b2b2b2" stroke="#b2b2b2" stroke-width="0.00" stroke-linejoin="round"/>
<rect x="320.5" y="306" width="5.00" height="22.00" rx="2" fill="#b2b2b2" stroke="#b2b2b2" stroke-width="0.00" stroke-linejoin="round"/>
<rect x="331.5" y="306" width="5.00" height="21.00" rx="2" fill="#b2b2b2" stroke="#b2b2b2" stroke-width="0.00" stroke-linejoin="round"/>
<ellipse cx="350" cy="309.5" rx="10" ry="7" fill="#b2b2b2" stroke="#b2b2b2" stroke-width="0.00" stroke-linejoin="round"/>
<ellipse cx="352.5" cy="308.5" rx="5" ry="4" fill="#b2b2b2" stroke="#b2b2b2" stroke-width="0.00" stroke-linejoin="round"/>
<ellipse cx="362" cy="312.5" rx="8" ry="2.6" fill="#b2b2b2" stroke="#b2b2b2" stroke-width="0.00" stroke-linejoin="round" transform="rotate(25 362 312.5)"/>
<rect x="308.5" y="351" width="5.00" height="11.00" rx="2" fill="#b2b2b2" stroke="#b2b2b2" stroke-width="3.00" stroke-linejoin="round"/>
<rect x="395.5" y="308" width="3.00" height="13.00" rx="1.5" fill="#b2b2b2" stroke="#b2b2b2" stroke-width="0.00" stroke-linejoin="round"/>
<ellipse cx="420.5" cy="316.5" rx="2" ry="3" fill="#b2b2b2" stroke="#b2b2b2" stroke-width="0.00" stroke-linejoin="round"/>
<ellipse cx="447" cy="322.8" rx="9.5" ry="1.5" fill="#b2b2b2" stroke="#b2b2b2" stroke-width="0.00" stroke-linejoin="round"/>
<rect x="471.5" y="314" width="9.50" height="13.50" rx="3" fill="#b2b2b2" stroke="#b2b2b2" stroke-width="0.00" stroke-linejoin="round"/>
<rect x="480" y="317" width="23.00" height="9.50" rx="3" fill="#b2b2b2" stroke="#b2b2b2" stroke-width="0.00" stroke-linejoin="round"/>
<rect x="405" y="345" width="58.00" height="19.00" rx="3" fill="#b2b2b2" stroke="#b2b2b2" stroke-width="0.00" stroke-linejoin="round"/>
<rect x="412.5" y="345.6" width="46.20" height="18.40" rx="3" fill="#b2b2b2" stroke="#b2b2b2" stroke-width="0.00" stroke-linejoin="round"/>
<rect x="419" y="346.2" width="36.50" height="17.80" rx="3" fill="#b2b2b2" stroke="#b2b2b2" stroke-width="0.00" stroke-linejoin="round"/>
<rect x="425.4" y="346.8" width="25.80" height="17.20" rx="3" fill="#b2b2b2" stroke="#b2b2b2" stroke-width="0.00" stroke-linejoin="round"/>
<rect x="527.5" y="313.5" width="10.00" height="14.80" rx="3" fill="#b2b2b2" stroke="#b2b2b2" stroke-width="0.00" stroke-linejoin="round"/>
<ellipse cx="622" cy="306" rx="10.5" ry="2.8" fill="#b2b2b2" stroke="#b2b2b2" stroke-width="0.00" stroke-linejoin="round"/>
<ellipse cx="622" cy="306" rx="7" ry="1.6" fill="#b2b2b2" stroke="#b2b2b2" stroke-width="0.00" stroke-linejoin="round"/>
<ellipse cx="622.5" cy="306" rx="4" ry="0.8" fill="#b2b2b2" stroke="#b2b2b2" stroke-width="0.00" stroke-linejoin="round"/>
<rect x="625.5" y="315.8" width="21.50" height="13.20" rx="3" fill="#b2b2b2" stroke="#b2b2b2" stroke-width="0.00" stroke-linejoin="round"/>
<ellipse cx="629" cy="313" rx="3" ry="3" fill="#b2b2b2" stroke="#b2b2b2" stroke-width="0.00" stroke-linejoin="round"/>
<rect x="541.8" y="345" width="59.00" height="19.00" rx="3" fill="#b2b2b2" stroke="#b2b2b2" stroke-width="0.00" stroke-linejoin="round"/>
<rect x="549.3" y="346" width="46.20" height="18.00" rx="3" fill="#b2b2b2" stroke="#b2b2b2" stroke-width="0.00" stroke-linejoin="round"/>
<rect x="579.4" y="347.6" width="10.60" height="16.40" rx="2" fill="#b2b2b2" stroke="#b2b2b2" stroke-width="0.00" stroke-linejoin="round"/>
<ellipse cx="668.3" cy="333.5" rx="2" ry="7.5" fill="#b2b2b2" stroke="#b2b2b2" stroke-width="4.80" stroke-linejoin="round"/>
<ellipse cx="706.5" cy="295.5" rx="9" ry="4.8" fill="#b2b2b2" stroke="#b2b2b2" stroke-width="0.00" stroke-linejoin="round"/>
<ellipse cx="744.6" cy="285.4" rx="11.3" ry="6.4" fill="#b2b2b2" stroke="#b2b2b2" stroke-width="0.00" stroke-linejoin="round"/>
<ellipse cx="744.6" cy="284.8" rx="5.9" ry="2.8" fill="#b2b2b2" stroke="#b2b2b2" stroke-width="0.00" stroke-linejoin="round"/>
<rect x="746.3" y="314" width="5.20" height="21.50" rx="2" fill="#b2b2b2" stroke="#b2b2b2" stroke-width="0.00" stroke-linejoin="round"/>
<rect x="758.2" y="314" width="5.00" height="18.00" rx="2" fill="#b2b2b2" stroke="#b2b2b2" stroke-width="0.00" stroke-linejoin="round"/>
<rect x="781.3" y="318" width="4.70" height="10.00" rx="2" fill="#b2b2b2" stroke="#b2b2b2" stroke-width="0.00" stroke-linejoin="round"/>
<rect x="677.5" y="343.8" width="62.30" height="20.20" rx="3" fill="#b2b2b2" stroke="#b2b2b2" stroke-width="0.00" stroke-linejoin="round"/>
<rect x="683" y="345" width="54.60" height="19.00" rx="3" fill="#b2b2b2" stroke="#b2b2b2" stroke-width="0.00" stroke-linejoin="round"/>
<rect x="688.3" y="346.2" width="46.10" height="17.80" rx="3" fill="#b2b2b2" stroke="#b2b2b2" stroke-width="0.00" stroke-linejoin="round"/>
<rect x="690.4" y="347.6" width="38.60" height="16.40" rx="3" fill="#b2b2b2" stroke="#b2b2b2" stroke-width="0.00" stroke-linejoin="round"/>
<ellipse cx="778" cy="266.3" rx="12.3" ry="7" fill="#b2b2b2" stroke="#b2b2b2" stroke-width="4.40" stroke-linejoin="round"/>
<ellipse cx="777.6" cy="264.8" rx="5.4" ry="3.2" fill="#b2b2b2" stroke="#b2b2b2" stroke-width="0.00" stroke-linejoin="round"/>
<path d="M793.0,293.0C792.8,291.7 791.1,289.7 795.0,288.6C798.9,287.5 810.8,287.3 816.5,286.5C822.2,285.7 825.2,284.1 829.3,283.9C833.4,283.7 838.2,284.2 841.1,285.4C844.0,286.5 846.5,289.2 846.5,290.8C846.5,292.4 844.3,293.9 841.1,295.0C837.9,296.1 832.7,297.0 827.2,297.2C821.7,297.4 813.1,296.2 807.9,296.1C802.7,296.0 798.5,297.0 796.0,296.5C793.5,296.0 793.2,294.3 793.0,293.0Z" fill="#b2b2b2" stroke="#b2b2b2" stroke-width="0.00" stroke-linejoin="round"/>
<ellipse cx="829.3" cy="289.2" rx="10.5" ry="3.5" fill="#b2b2b2" stroke="#b2b2b2" stroke-width="0.00" stroke-linejoin="round"/>
<ellipse cx="863" cy="292.8" rx="7" ry="4.2" fill="#b2b2b2" stroke="#b2b2b2" stroke-width="0.00" stroke-linejoin="round"/>
<path d="M871.2,297.2C873.9,296.4 879.9,295.6 885.1,296.1C890.3,296.6 895.8,299.0 902.3,300.4C908.8,301.8 916.7,303.3 923.8,304.7C930.9,306.1 939.5,308.0 945.0,309.0C950.5,310.0 951.4,309.9 956.5,310.5C961.6,311.1 972.4,312.0 975.8,312.6C979.2,313.2 978.4,313.5 977.0,314.0C975.6,314.5 972.5,315.2 967.2,315.4C961.9,315.6 952.2,316.1 945.0,315.4C937.8,314.7 930.9,312.4 923.8,311.1C916.7,309.9 908.8,308.6 902.3,307.9C895.8,307.2 890.1,307.3 885.1,306.8C880.1,306.3 875.0,305.7 872.3,304.7C869.6,303.7 869.2,302.2 869.0,301.0C868.8,299.8 868.5,298.0 871.2,297.2Z" fill="#b2b2b2" stroke="#b2b2b2" stroke-width="0.00" stroke-linejoin="round"/>
<ellipse cx="881.9" cy="301.5" rx="6.4" ry="3.2" fill="#b2b2b2" stroke="#b2b2b2" stroke-width="0.00" stroke-linejoin="round"/>
<path d="M857.2,310.0C858.3,313.9 858.2,323.2 855.0,327.2C851.8,331.1 842.9,333.0 837.9,333.7C832.9,334.4 827.7,332.9 825.0,331.5C822.3,330.1 820.4,327.5 821.8,325.0C823.2,322.5 830.9,319.7 833.6,316.5C836.3,313.3 835.4,307.9 837.9,305.8C840.4,303.7 845.4,302.9 848.6,303.6C851.8,304.3 856.1,306.1 857.2,310.0Z" fill="#b2b2b2" stroke="#b2b2b2" stroke-width="0.00" stroke-linejoin="round"/>
<ellipse cx="831.4" cy="326.7" rx="4.4" ry="2.7" fill="#b2b2b2" stroke="#b2b2b2" stroke-width="0.00" stroke-linejoin="round"/>
<ellipse cx="842" cy="300" rx="6" ry="5" fill="#b2b2b2" stroke="#b2b2b2" stroke-width="0.00" stroke-linejoin="round"/>
<rect x="798.5" y="314" width="16.50" height="13.50" rx="3" fill="#b2b2b2" stroke="#b2b2b2" stroke-width="0.00" stroke-linejoin="round"/>
<rect x="880.3" y="313.2" width="14.00" height="14.60" rx="3" fill="#b2b2b2" stroke="#b2b2b2" stroke-width="0.00" stroke-linejoin="round"/>
<rect x="903.8" y="313.2" width="7.70" height="10.40" rx="3" fill="#b2b2b2" stroke="#b2b2b2" stroke-width="0.00" stroke-linejoin="round"/>
<rect x="994.3" y="298.5" width="4.00" height="31.50" rx="2" fill="#b2b2b2" stroke="#b2b2b2" stroke-width="3.20" stroke-linejoin="round"/>
<rect x="944" y="344" width="27.50" height="20.00" rx="4" fill="#b2b2b2" stroke="#b2b2b2" stroke-width="0.00" stroke-linejoin="round"/>
<ellipse cx="1019.1" cy="186.9" rx="6.5" ry="4" fill="#b2b2b2" stroke="#b2b2b2" stroke-width="0.00" stroke-linejoin="round"/>
<path d="M1112.0,259.7C1109.8,247.5 1104.2,259.5 1099.0,259.7C1093.8,259.9 1085.6,260.0 1080.9,260.6C1076.2,261.2 1074.0,261.7 1070.7,263.1C1067.5,264.5 1064.2,266.6 1061.4,269.0C1058.6,271.4 1056.7,274.6 1053.8,277.5C1050.9,280.4 1048.3,284.4 1044.1,286.5C1039.9,288.6 1034.2,288.1 1028.8,290.4C1023.4,292.6 1014.8,297.6 1011.5,300.0C1008.2,302.4 1009.0,303.1 1009.0,304.5C1009.0,305.9 1008.8,306.6 1011.5,308.6C1014.2,310.6 1020.8,313.9 1025.0,316.3C1029.2,318.7 1033.2,322.4 1036.5,323.0C1039.8,323.6 1043.3,323.0 1045.1,320.1C1046.8,317.2 1045.6,310.2 1047.0,305.7C1048.4,301.2 1051.5,293.5 1053.7,293.2C1056.0,292.9 1059.0,299.3 1060.5,303.8C1062.0,308.3 1060.3,315.6 1062.4,320.1C1064.5,324.6 1069.6,328.5 1072.9,330.7C1076.2,332.9 1078.2,333.2 1082.5,333.5C1086.8,333.8 1094.1,332.8 1099.0,332.6C1103.9,332.5 1109.8,344.8 1112.0,332.6C1114.2,320.5 1114.2,271.9 1112.0,259.7Z" fill="#b2b2b2" stroke="#b2b2b2" stroke-width="0.00" stroke-linejoin="round"/>
<path d="M1112.0,263.0C1109.8,251.9 1104.2,262.9 1099.0,263.0C1093.8,263.1 1085.5,263.0 1081.0,263.5C1076.5,264.0 1074.9,264.7 1072.0,266.0C1069.1,267.3 1065.9,269.7 1063.5,271.5C1061.1,273.3 1058.9,275.1 1057.6,277.0C1056.3,278.9 1055.7,280.1 1055.7,282.7C1055.7,285.2 1056.3,288.8 1057.6,292.3C1058.9,295.8 1062.0,299.7 1063.3,303.8C1064.6,307.9 1063.4,313.1 1065.3,317.2C1067.2,321.3 1071.7,326.3 1074.9,328.7C1078.1,331.1 1080.5,331.4 1084.5,331.6C1088.5,331.8 1094.4,330.0 1099.0,329.7C1103.6,329.4 1109.8,340.8 1112.0,329.7C1114.2,318.6 1114.2,274.1 1112.0,263.0Z" fill="#b2b2b2" stroke="#b2b2b2" stroke-width="0.00" stroke-linejoin="round"/>
<path d="M1012.5,303.8C1012.8,302.1 1016.2,299.9 1019.2,298.0C1022.2,296.1 1026.7,293.6 1030.7,292.7C1034.7,291.8 1041.1,291.6 1043.2,292.3C1045.3,293.0 1044.3,294.9 1043.2,297.1C1042.1,299.3 1039.2,303.6 1036.5,305.7C1033.8,307.8 1030.1,309.1 1026.9,309.5C1023.7,309.9 1019.7,308.9 1017.3,308.0C1014.9,307.1 1012.2,305.5 1012.5,303.8Z" fill="#b2b2b2" stroke="#b2b2b2" stroke-width="0.00" stroke-linejoin="round"/>
<path d="M1067.3,191.2C1070.3,190.3 1077.3,190.0 1082.6,190.3C1087.9,190.6 1094.1,192.5 1099.0,192.9C1103.9,193.3 1109.8,191.6 1112.0,193.0C1114.2,194.4 1114.2,199.9 1112.0,201.3C1109.8,202.7 1104.2,201.2 1099.0,201.3C1093.8,201.5 1084.9,201.3 1080.9,202.2C1076.9,203.0 1076.0,203.9 1074.9,206.4C1073.8,208.9 1074.8,214.7 1074.1,217.4C1073.4,220.1 1074.0,221.5 1070.7,222.5C1067.5,223.5 1057.7,223.6 1054.6,223.3C1051.5,223.0 1052.7,223.3 1052.1,220.8C1051.5,218.3 1051.1,210.9 1051.2,208.1C1051.3,205.3 1050.8,205.0 1052.9,203.9C1055.0,202.8 1061.9,202.7 1063.9,201.3C1065.9,199.9 1064.2,197.1 1064.8,195.4C1065.4,193.7 1064.3,192.0 1067.3,191.2Z" fill="#b2b2b2" stroke="#b2b2b2" stroke-width="18.00" stroke-linejoin="round"/>
<ellipse cx="1056.5" cy="228" rx="5" ry="3.5" fill="#b2b2b2" stroke="#b2b2b2" stroke-width="12.00" stroke-linejoin="round"/>
<ellipse cx="1056.7" cy="231" rx="4.5" ry="2" fill="#b2b2b2" stroke="#b2b2b2" stroke-width="0.00" stroke-linejoin="round"/>
<ellipse cx="200.1" cy="204.9" rx="5.4" ry="5.9" fill="#b2b2b2" stroke="#b2b2b2" stroke-width="0.00" stroke-linejoin="round"/>
<ellipse cx="200.6" cy="204.9" rx="2.7" ry="2.7" fill="#b2b2b2" stroke="#b2b2b2" stroke-width="0.00" stroke-linejoin="round"/>
<ellipse cx="224.8" cy="205.6" rx="2.6" ry="3.6" fill="#b2b2b2" stroke="#b2b2b2" stroke-width="0.00" stroke-linejoin="round"/>
<ellipse cx="231.2" cy="225.3" rx="3.2" ry="7" fill="#b2b2b2" stroke="#b2b2b2" stroke-width="0.00" stroke-linejoin="round"/>
<ellipse cx="245.3" cy="221.5" rx="4.4" ry="11.5" fill="#b2b2b2" stroke="#b2b2b2" stroke-width="0.00" stroke-linejoin="round" transform="rotate(25 245.3 221.5)"/>
<ellipse cx="247.5" cy="214" rx="2" ry="3" fill="#b2b2b2" stroke="#b2b2b2" stroke-width="0.00" stroke-linejoin="round"/>
<ellipse cx="247.7" cy="214" rx="1" ry="1.5" fill="#b2b2b2" stroke="#b2b2b2" stroke-width="0.00" stroke-linejoin="round"/>
<ellipse cx="276.6" cy="243.8" rx="3" ry="4.5" fill="#b2b2b2" stroke="#b2b2b2" stroke-width="0.00" stroke-linejoin="round"/>
<rect x="325.2" y="212.5" width="6.00" height="26.00" rx="2" fill="#b2b2b2" stroke="#b2b2b2" stroke-width="0.00" stroke-linejoin="round"/>
<rect x="377" y="212.5" width="5.80" height="22.80" rx="2" fill="#b2b2b2" stroke="#b2b2b2" stroke-width="0.00" stroke-linejoin="round"/>
<rect x="389" y="226" width="5.30" height="22.20" rx="2" fill="#b2b2b2" stroke="#b2b2b2" stroke-width="0.00" stroke-linejoin="round"/>
<ellipse cx="603" cy="218" rx="10.5" ry="2.3" fill="#b2b2b2" stroke="#b2b2b2" stroke-width="0.00" stroke-linejoin="round"/>
<ellipse cx="603.5" cy="218" rx="3" ry="0.9" fill="#b2b2b2" stroke="#b2b2b2" stroke-width="0.00" stroke-linejoin="round"/>
<ellipse cx="134.5" cy="310" rx="3.5" ry="7" fill="#949494" stroke="#949494" stroke-width="0.00" stroke-linejoin="round" transform="rotate(35 134.5 310)"/>
<ellipse cx="143.5" cy="301.5" rx="2.3" ry="2.3" fill="#949494" stroke="#949494" stroke-width="0.00" stroke-linejoin="round"/>
<ellipse cx="166.5" cy="306.5" rx="2" ry="3.5" fill="#949494" stroke="#949494" stroke-width="0.00" stroke-linejoin="round"/>
<ellipse cx="260" cy="317.5" rx="5" ry="1.8" fill="#949494" stroke="#949494" stroke-width="0.00" stroke-linejoin="round"/>
<ellipse cx="279" cy="313.8" rx="7" ry="4" fill="#949494" stroke="#949494" stroke-width="0.00" stroke-linejoin="round"/>
<ellipse cx="352.5" cy="308.5" rx="5" ry="4" fill="#949494" stroke="#949494" stroke-width="0.00" stroke-linejoin="round"/>
<rect x="308.5" y="351" width="5.00" height="11.00" rx="2" fill="#949494" stroke="#949494" stroke-width="0.00" stroke-linejoin="round"/>
<rect x="412.5" y="345.6" width="46.20" height="18.40" rx="3" fill="#949494" stroke="#949494" stroke-width="0.00" stroke-linejoin="round"/>
<rect x="419" y="346.2" width="36.50" height="17.80" rx="3" fill="#949494" stroke="#949494" stroke-width="0.00" stroke-linejoin="round"/>
<rect x="425.4" y="346.8" width="25.80" height="17.20" rx="3" fill="#949494" stroke="#949494" stroke-width="0.00" stroke-linejoin="round"/>
<ellipse cx="622" cy="306" rx="7" ry="1.6" fill="#949494" stroke="#949494" stroke-width="0.00" stroke-linejoin="round"/>
<ellipse cx="622.5" cy="306" rx="4" ry="0.8" fill="#949494" stroke="#949494" stroke-width="0.00" stroke-linejoin="round"/>
<rect x="549.3" y="346" width="46.20" height="18.00" rx="3" fill="#949494" stroke="#949494" stroke-width="0.00" stroke-linejoin="round"/>
<rect x="579.4" y="347.6" width="10.60" height="16.40" rx="2" fill="#949494" stroke="#949494" stroke-width="0.00" stroke-linejoin="round"/>
<ellipse cx="668.3" cy="333.5" rx="2" ry="7.5" fill="#949494" stroke="#949494" stroke-width="2.40" stroke-linejoin="round"/>
<ellipse cx="744.6" cy="284.8" rx="5.9" ry="2.8" fill="#949494" stroke="#949494" stroke-width="0.00" stroke-linejoin="round"/>
<rect x="683" y="345" width="54.60" height="19.00" rx="3" fill="#949494" stroke="#949494" stroke-width="0.00" stroke-linejoin="round"/>
<rect x="688.3" y="346.2" width="46.10" height="17.80" rx="3" fill="#949494" stroke="#949494" stroke-width="0.00" stroke-linejoin="round"/>
<rect x="690.4" y="347.6" width="38.60" height="16.40" rx="3" fill="#949494" stroke="#949494" stroke-width="0.00" stroke-linejoin="round"/>
<ellipse cx="778" cy="266.3" rx="12.3" ry="7" fill="#949494" stroke="#949494" stroke-width="0.00" stroke-linejoin="round"/>
<ellipse cx="777.6" cy="264.8" rx="5.4" ry="3.2" fill="#949494" stroke="#949494" stroke-width="0.00" stroke-linejoin="round"/>
<ellipse cx="829.3" cy="289.2" rx="10.5" ry="3.5" fill="#949494" stroke="#949494" stroke-width="0.00" stroke-linejoin="round"/>
<ellipse cx="881.9" cy="301.5" rx="6.4" ry="3.2" fill="#949494" stroke="#949494" stroke-width="0.00" stroke-linejoin="round"/>
<ellipse cx="831.4" cy="326.7" rx="4.4" ry="2.7" fill="#949494" stroke="#949494" stroke-width="0.00" stroke-linejoin="round"/>
<rect x="994.3" y="298.5" width="4.00" height="31.50" rx="2" fill="#949494" stroke="#949494" stroke-width="0.00" stroke-linejoin="round"/>
<path d="M1112.0,263.0C1109.8,251.9 1104.2,262.9 1099.0,263.0C1093.8,263.1 1085.5,263.0 1081.0,263.5C1076.5,264.0 1074.9,264.7 1072.0,266.0C1069.1,267.3 1065.9,269.7 1063.5,271.5C1061.1,273.3 1058.9,275.1 1057.6,277.0C1056.3,278.9 1055.7,280.1 1055.7,282.7C1055.7,285.2 1056.3,288.8 1057.6,292.3C1058.9,295.8 1062.0,299.7 1063.3,303.8C1064.6,307.9 1063.4,313.1 1065.3,317.2C1067.2,321.3 1071.7,326.3 1074.9,328.7C1078.1,331.1 1080.5,331.4 1084.5,331.6C1088.5,331.8 1094.4,330.0 1099.0,329.7C1103.6,329.4 1109.8,340.8 1112.0,329.7C1114.2,318.6 1114.2,274.1 1112.0,263.0Z" fill="#949494" stroke="#949494" stroke-width="0.00" stroke-linejoin="round"/>
<path d="M1012.5,303.8C1012.8,302.1 1016.2,299.9 1019.2,298.0C1022.2,296.1 1026.7,293.6 1030.7,292.7C1034.7,291.8 1041.1,291.6 1043.2,292.3C1045.3,293.0 1044.3,294.9 1043.2,297.1C1042.1,299.3 1039.2,303.6 1036.5,305.7C1033.8,307.8 1030.1,309.1 1026.9,309.5C1023.7,309.9 1019.7,308.9 1017.3,308.0C1014.9,307.1 1012.2,305.5 1012.5,303.8Z" fill="#949494" stroke="#949494" stroke-width="0.00" stroke-linejoin="round"/>
<path d="M1067.3,191.2C1070.3,190.3 1077.3,190.0 1082.6,190.3C1087.9,190.6 1094.1,192.5 1099.0,192.9C1103.9,193.3 1109.8,191.6 1112.0,193.0C1114.2,194.4 1114.2,199.9 1112.0,201.3C1109.8,202.7 1104.2,201.2 1099.0,201.3C1093.8,201.5 1084.9,201.3 1080.9,202.2C1076.9,203.0 1076.0,203.9 1074.9,206.4C1073.8,208.9 1074.8,214.7 1074.1,217.4C1073.4,220.1 1074.0,221.5 1070.7,222.5C1067.5,223.5 1057.7,223.6 1054.6,223.3C1051.5,223.0 1052.7,223.3 1052.1,220.8C1051.5,218.3 1051.1,210.9 1051.2,208.1C1051.3,205.3 1050.8,205.0 1052.9,203.9C1055.0,202.8 1061.9,202.7 1063.9,201.3C1065.9,199.9 1064.2,197.1 1064.8,195.4C1065.4,193.7 1064.3,192.0 1067.3,191.2Z" fill="#949494" stroke="#949494" stroke-width="12.00" stroke-linejoin="round"/>
<ellipse cx="1056.5" cy="228" rx="5" ry="3.5" fill="#949494" stroke="#949494" stroke-width="6.00" stroke-linejoin="round"/>
<ellipse cx="1056.7" cy="231" rx="4.5" ry="2" fill="#949494" stroke="#949494" stroke-width="0.00" stroke-linejoin="round"/>
<ellipse cx="200.6" cy="204.9" rx="2.7" ry="2.7" fill="#949494" stroke="#949494" stroke-width="0.00" stroke-linejoin="round"/>
<ellipse cx="247.5" cy="214" rx="2" ry="3" fill="#949494" stroke="#949494" stroke-width="0.00" stroke-linejoin="round"/>
<ellipse cx="247.7" cy="214" rx="1" ry="1.5" fill="#949494" stroke="#949494" stroke-width="0.00" stroke-linejoin="round"/>
<ellipse cx="603.5" cy="218" rx="3" ry="0.9" fill="#949494" stroke="#949494" stroke-width="0.00" stroke-linejoin="round"/>
<rect x="419" y="346.2" width="36.50" height="17.80" rx="3" fill="#787878" stroke="#787878" stroke-width="0.00" stroke-linejoin="round"/>
<rect x="425.4" y="346.8" width="25.80" height="17.20" rx="3" fill="#787878" stroke="#787878" stroke-width="0.00" stroke-linejoin="round"/>
<ellipse cx="622.5" cy="306" rx="4" ry="0.8" fill="#787878" stroke="#787878" stroke-width="0.00" stroke-linejoin="round"/>
<rect x="579.4" y="347.6" width="10.60" height="16.40" rx="2" fill="#787878" stroke="#787878" stroke-width="0.00" stroke-linejoin="round"/>
<ellipse cx="668.3" cy="333.5" rx="2" ry="7.5" fill="#787878" stroke="#787878" stroke-width="0.00" stroke-linejoin="round"/>
<rect x="688.3" y="346.2" width="46.10" height="17.80" rx="3" fill="#787878" stroke="#787878" stroke-width="0.00" stroke-linejoin="round"/>
<rect x="690.4" y="347.6" width="38.60" height="16.40" rx="3" fill="#787878" stroke="#787878" stroke-width="0.00" stroke-linejoin="round"/>
<ellipse cx="777.6" cy="264.8" rx="5.4" ry="3.2" fill="#787878" stroke="#787878" stroke-width="0.00" stroke-linejoin="round"/>
<path d="M1067.3,191.2C1070.3,190.3 1077.3,190.0 1082.6,190.3C1087.9,190.6 1094.1,192.5 1099.0,192.9C1103.9,193.3 1109.8,191.6 1112.0,193.0C1114.2,194.4 1114.2,199.9 1112.0,201.3C1109.8,202.7 1104.2,201.2 1099.0,201.3C1093.8,201.5 1084.9,201.3 1080.9,202.2C1076.9,203.0 1076.0,203.9 1074.9,206.4C1073.8,208.9 1074.8,214.7 1074.1,217.4C1073.4,220.1 1074.0,221.5 1070.7,222.5C1067.5,223.5 1057.7,223.6 1054.6,223.3C1051.5,223.0 1052.7,223.3 1052.1,220.8C1051.5,218.3 1051.1,210.9 1051.2,208.1C1051.3,205.3 1050.8,205.0 1052.9,203.9C1055.0,202.8 1061.9,202.7 1063.9,201.3C1065.9,199.9 1064.2,197.1 1064.8,195.4C1065.4,193.7 1064.3,192.0 1067.3,191.2Z" fill="#787878" stroke="#787878" stroke-width="6.00" stroke-linejoin="round"/>
<ellipse cx="1056.5" cy="228" rx="5" ry="3.5" fill="#787878" stroke="#787878" stroke-width="0.00" stroke-linejoin="round"/>
<ellipse cx="1056.7" cy="231" rx="4.5" ry="2" fill="#787878" stroke="#787878" stroke-width="0.00" stroke-linejoin="round"/>
<ellipse cx="247.7" cy="214" rx="1" ry="1.5" fill="#787878" stroke="#787878" stroke-width="0.00" stroke-linejoin="round"/>
<rect x="425.4" y="346.8" width="25.80" height="17.20" rx="3" fill="#585858" stroke="#585858" stroke-width="0.00" stroke-linejoin="round"/>
<rect x="690.4" y="347.6" width="38.60" height="16.40" rx="3" fill="#585858" stroke="#585858" stroke-width="0.00" stroke-linejoin="round"/>
<path d="M1067.3,191.2C1070.3,190.3 1077.3,190.0 1082.6,190.3C1087.9,190.6 1094.1,192.5 1099.0,192.9C1103.9,193.3 1109.8,191.6 1112.0,193.0C1114.2,194.4 1114.2,199.9 1112.0,201.3C1109.8,202.7 1104.2,201.2 1099.0,201.3C1093.8,201.5 1084.9,201.3 1080.9,202.2C1076.9,203.0 1076.0,203.9 1074.9,206.4C1073.8,208.9 1074.8,214.7 1074.1,217.4C1073.4,220.1 1074.0,221.5 1070.7,222.5C1067.5,223.5 1057.7,223.6 1054.6,223.3C1051.5,223.0 1052.7,223.3 1052.1,220.8C1051.5,218.3 1051.1,210.9 1051.2,208.1C1051.3,205.3 1050.8,205.0 1052.9,203.9C1055.0,202.8 1061.9,202.7 1063.9,201.3C1065.9,199.9 1064.2,197.1 1064.8,195.4C1065.4,193.7 1064.3,192.0 1067.3,191.2Z" fill="#585858" stroke="#585858" stroke-width="0.00" stroke-linejoin="round"/>
<ellipse cx="1056.7" cy="231" rx="4.5" ry="2" fill="#585858" stroke="#585858" stroke-width="0.00" stroke-linejoin="round"/>
<path d="M1088.9,208.5C1089.4,208.0 1089.7,211.7 1090.3,214.0C1090.9,216.3 1091.5,220.0 1092.3,222.6C1093.1,225.2 1093.9,228.1 1095.0,229.5C1096.1,230.9 1098.3,230.3 1099.0,231.0C1099.7,231.7 1100.6,232.8 1099.0,233.5C1097.4,234.2 1092.2,234.1 1089.5,235.5C1086.8,236.9 1085.5,240.1 1082.7,241.8C1079.9,243.5 1075.9,244.9 1072.6,245.7C1069.3,246.5 1064.7,247.0 1063.0,246.5C1061.3,246.0 1061.4,243.9 1062.4,242.5C1063.4,241.1 1066.6,239.9 1069.2,238.2C1071.8,236.5 1075.8,234.6 1078.2,232.5C1080.7,230.4 1082.4,228.4 1083.9,225.8C1085.4,223.2 1086.4,219.9 1087.2,217.0C1088.0,214.1 1088.4,209.0 1088.9,208.5Z" fill="#fafafa"/>
<ellipse cx="1092" cy="300.5" rx="10" ry="5.3" fill="#b2b2b2"/>
<ellipse cx="1093.5" cy="300.8" rx="7" ry="3.3" fill="#d2d2d2"/>
<ellipse cx="1095.5" cy="301" rx="4.5" ry="1.8" fill="#fafafa"/>
</g>
<line x1="127.0" x2="1094.0" y1="322.5" y2="322.5" stroke="#333" stroke-width="1" stroke-dasharray="0.8 1.12" opacity="0.8"/>
<line x1="127.0" x2="1094.0" y1="284.5" y2="284.5" stroke="#333" stroke-width="1" stroke-dasharray="0.8 1.12" opacity="0.8"/>
<line x1="127.0" x2="1094.0" y1="247.5" y2="247.5" stroke="#333" stroke-width="1" stroke-dasharray="0.8 1.12" opacity="0.8"/>
<line x1="127.0" x2="1094.0" y1="210.5" y2="210.5" stroke="#333" stroke-width="1" stroke-dasharray="0.8 1.12" opacity="0.8"/>
<line x1="127.0" x2="1094.0" y1="172.5" y2="172.5" stroke="#333" stroke-width="1" stroke-dasharray="0.8 1.12" opacity="0.8"/>
<line x1="265.5" x2="265.5" y1="97.0" y2="359.0" stroke="#868686" stroke-width="1"/>
<line x1="403.5" x2="403.5" y1="97.0" y2="359.0" stroke="#868686" stroke-width="1"/>
<line x1="541.5" x2="541.5" y1="97.0" y2="359.0" stroke="#868686" stroke-width="1"/>
<line x1="680.5" x2="680.5" y1="97.0" y2="359.0" stroke="#868686" stroke-width="1"/>
<line x1="818.5" x2="818.5" y1="97.0" y2="359.0" stroke="#868686" stroke-width="1"/>
<line x1="956.5" x2="956.5" y1="97.0" y2="359.0" stroke="#868686" stroke-width="1"/>
<line x1="127.0" x2="1094.0" y1="350.5" y2="350.5" stroke="#222" stroke-width="1"/>
<line x1="144.5" x2="144.5" y1="354.5" y2="359.0" stroke="#222" stroke-width="1"/>
<line x1="162.5" x2="162.5" y1="350.5" y2="359.0" stroke="#222" stroke-width="1"/>
<line x1="179.5" x2="179.5" y1="354.5" y2="359.0" stroke="#222" stroke-width="1"/>
<line x1="196.5" x2="196.5" y1="350.5" y2="359.0" stroke="#222" stroke-width="1"/>
<line x1="213.5" x2="213.5" y1="354.5" y2="359.0" stroke="#222" stroke-width="1"/>
<line x1="231.5" x2="231.5" y1="350.5" y2="359.0" stroke="#222" stroke-width="1"/>
<line x1="248.5" x2="248.5" y1="354.5" y2="359.0" stroke="#222" stroke-width="1"/>
<line x1="282.5" x2="282.5" y1="354.5" y2="359.0" stroke="#222" stroke-width="1"/>
<line x1="300.5" x2="300.5" y1="350.5" y2="359.0" stroke="#222" stroke-width="1"/>
<line x1="317.5" x2="317.5" y1="354.5" y2="359.0" stroke="#222" stroke-width="1"/>
<line x1="334.5" x2="334.5" y1="350.5" y2="359.0" stroke="#222" stroke-width="1"/>
<line x1="351.5" x2="351.5" y1="354.5" y2="359.0" stroke="#222" stroke-width="1"/>
<line x1="369.5" x2="369.5" y1="350.5" y2="359.0" stroke="#222" stroke-width="1"/>
<line x1="386.5" x2="386.5" y1="354.5" y2="359.0" stroke="#222" stroke-width="1"/>
<line x1="421.5" x2="421.5" y1="354.5" y2="359.0" stroke="#222" stroke-width="1"/>
<line x1="438.5" x2="438.5" y1="350.5" y2="359.0" stroke="#222" stroke-width="1"/>
<line x1="455.5" x2="455.5" y1="354.5" y2="359.0" stroke="#222" stroke-width="1"/>
<line x1="472.5" x2="472.5" y1="350.5" y2="359.0" stroke="#222" stroke-width="1"/>
<line x1="490.5" x2="490.5" y1="354.5" y2="359.0" stroke="#222" stroke-width="1"/>
<line x1="507.5" x2="507.5" y1="350.5" y2="359.0" stroke="#222" stroke-width="1"/>
<line x1="524.5" x2="524.5" y1="354.5" y2="359.0" stroke="#222" stroke-width="1"/>
<line x1="559.5" x2="559.5" y1="354.5" y2="359.0" stroke="#222" stroke-width="1"/>
<line x1="576.5" x2="576.5" y1="350.5" y2="359.0" stroke="#222" stroke-width="1"/>
<line x1="593.5" x2="593.5" y1="354.5" y2="359.0" stroke="#222" stroke-width="1"/>
<line x1="610.5" x2="610.5" y1="350.5" y2="359.0" stroke="#222" stroke-width="1"/>
<line x1="628.5" x2="628.5" y1="354.5" y2="359.0" stroke="#222" stroke-width="1"/>
<line x1="645.5" x2="645.5" y1="350.5" y2="359.0" stroke="#222" stroke-width="1"/>
<line x1="662.5" x2="662.5" y1="354.5" y2="359.0" stroke="#222" stroke-width="1"/>
<line x1="697.5" x2="697.5" y1="354.5" y2="359.0" stroke="#222" stroke-width="1"/>
<line x1="714.5" x2="714.5" y1="350.5" y2="359.0" stroke="#222" stroke-width="1"/>
<line x1="731.5" x2="731.5" y1="354.5" y2="359.0" stroke="#222" stroke-width="1"/>
<line x1="749.5" x2="749.5" y1="350.5" y2="359.0" stroke="#222" stroke-width="1"/>
<line x1="766.5" x2="766.5" y1="354.5" y2="359.0" stroke="#222" stroke-width="1"/>
<line x1="783.5" x2="783.5" y1="350.5" y2="359.0" stroke="#222" stroke-width="1"/>
<line x1="800.5" x2="800.5" y1="354.5" y2="359.0" stroke="#222" stroke-width="1"/>
<line x1="835.5" x2="835.5" y1="354.5" y2="359.0" stroke="#222" stroke-width="1"/>
<line x1="852.5" x2="852.5" y1="350.5" y2="359.0" stroke="#222" stroke-width="1"/>
<line x1="870.5" x2="870.5" y1="354.5" y2="359.0" stroke="#222" stroke-width="1"/>
<line x1="887.5" x2="887.5" y1="350.5" y2="359.0" stroke="#222" stroke-width="1"/>
<line x1="904.5" x2="904.5" y1="354.5" y2="359.0" stroke="#222" stroke-width="1"/>
<line x1="921.5" x2="921.5" y1="350.5" y2="359.0" stroke="#222" stroke-width="1"/>
<line x1="939.5" x2="939.5" y1="354.5" y2="359.0" stroke="#222" stroke-width="1"/>
<line x1="973.5" x2="973.5" y1="354.5" y2="359.0" stroke="#222" stroke-width="1"/>
<line x1="990.5" x2="990.5" y1="350.5" y2="359.0" stroke="#222" stroke-width="1"/>
<line x1="1008.5" x2="1008.5" y1="354.5" y2="359.0" stroke="#222" stroke-width="1"/>
<line x1="1025.5" x2="1025.5" y1="350.5" y2="359.0" stroke="#222" stroke-width="1"/>
<line x1="1042.5" x2="1042.5" y1="354.5" y2="359.0" stroke="#222" stroke-width="1"/>
<line x1="1059.5" x2="1059.5" y1="350.5" y2="359.0" stroke="#222" stroke-width="1"/>
<line x1="1077.5" x2="1077.5" y1="354.5" y2="359.0" stroke="#222" stroke-width="1"/>
<polyline points="127.0,267.9 138.2,267.4 145.8,266.5 166.1,265.7 171.5,262.7 176.9,256.9 184.4,246.1 193.0,232.2 200.5,221.0 205.8,215.0 210.1,213.3 213.3,212.9 217.6,214.6 221.9,219.3 227.3,230.0 235.9,248.3 246.6,262.2 257.3,271.9 263.8,276.2 268.6,277.9 279.3,280.9 290.0,283.3 298.6,284.5 304.0,283.7 309.4,279.8 314.7,271.9 321.2,257.9 328.7,238.6 335.1,224.7 340.5,217.6 345.8,215.0 351.2,215.5 357.6,219.7 364.1,232.2 373.7,251.5 384.5,264.4 395.2,273.0 403.8,277.7 408.6,279.1 421.5,282.5 432.2,285.1 438.6,285.8 444.0,284.7 449.4,280.4 455.8,271.2 466.5,249.7 473.0,239.0 478.3,231.5 483.7,227.6 489.1,226.7 495.5,230.4 503.0,244.3 512.7,262.6 524.5,275.5 535.2,284.0 542.7,288.8 550.7,292.7 561.5,297.0 572.2,300.8 576.5,301.5 581.8,300.8 587.2,296.5 593.6,284.7 602.2,264.4 609.7,246.1 616.2,236.0 621.5,231.3 626.9,230.7 633.3,235.4 640.9,250.4 650.5,270.8 660.2,284.7 670.9,295.5 679.5,300.4 690.7,304.0 703.6,306.1 714.3,307.4 719.7,306.1 725.1,301.2 731.5,290.5 740.1,271.1 748.7,254.0 755.1,244.3 760.5,238.9 765.8,237.4 771.2,240.5 777.6,251.8 785.2,266.8 792.7,276.5 804.5,284.7 817.3,291.1 823.6,292.9 834.3,296.6 845.0,301.5 852.6,305.4 857.9,306.5 863.3,304.1 868.6,298.3 877.2,283.3 885.8,267.2 893.3,258.2 899.8,254.3 905.1,253.7 910.5,255.8 918.0,268.3 926.6,285.4 935.2,296.2 945.9,305.8 955.6,311.8 957.8,312.3 970.8,315.7 983.7,317.8 992.8,318.3 998.0,316.2 1003.2,309.7 1009.7,296.8 1018.8,274.7 1027.9,253.9 1034.4,242.3 1039.5,236.3 1044.0,234.7 1048.6,237.1 1056.4,251.3 1065.5,268.2 1074.6,276.0 1085.0,283.0 1094.0,289.5" fill="none" stroke="#f20d0d" stroke-width="3.4" stroke-linejoin="round" stroke-linecap="butt" clip-path="url(#plotclip)"/>
<rect x="127.5" y="97.5" width="967.0" height="262.0" fill="none" stroke="#0a0a0a" stroke-width="1.15"/>
<use href="#i_mf" x="144.27" y="0"/>
<use href="#i_sc" x="178.80" y="0"/>
<use href="#i_sc" x="213.34" y="0"/>
<use href="#i_mf" x="247.88" y="0"/>
<use href="#i_mf" x="282.41" y="0"/>
<use href="#i_sf" x="316.95" y="0"/>
<use href="#i_sc" x="351.48" y="0"/>
<use href="#i_mc" x="386.02" y="0"/>
<use href="#i_mf" x="420.55" y="0"/>
<use href="#i_sf" x="455.09" y="0"/>
<use href="#i_ss" x="489.62" y="0"/>
<use href="#i_mc" x="524.16" y="0"/>
<use href="#i_mf" x="558.70" y="0"/>
<use href="#i_sf" x="593.23" y="0"/>
<use href="#i_ss" x="627.77" y="0"/>
<use href="#i_mf" x="662.30" y="0"/>
<use href="#i_mf" x="696.84" y="0"/>
<use href="#i_sf" x="731.38" y="0"/>
<use href="#i_sc" x="765.91" y="0"/>
<use href="#i_mb" x="800.45" y="0"/>
<use href="#i_mb" x="834.98" y="0"/>
<use href="#i_sc" x="869.52" y="0"/>
<use href="#i_sc" x="904.05" y="0"/>
<use href="#i_mf" x="938.59" y="0"/>
<use href="#i_mf" x="973.12" y="0"/>
<use href="#i_sc" x="1007.66" y="0"/>
<use href="#i_sc" x="1042.20" y="0"/>
<use href="#i_mb" x="1076.73" y="0"/>
<circle cx="127.00" cy="153.0" r="3.55" fill="none" stroke="#000" stroke-width="1.85"/>
<circle cx="144.27" cy="153.0" r="3.55" fill="none" stroke="#000" stroke-width="1.85"/>
<circle cx="161.54" cy="153.0" r="3.55" fill="none" stroke="#000" stroke-width="1.85"/>
<circle cx="178.80" cy="153.0" r="3.55" fill="none" stroke="#000" stroke-width="1.85"/>
<path d="M184.07,153.21L208.07,152.79M203.57,152.87L205.15,157.64" fill="none" stroke="#000" stroke-width="1.8" stroke-linecap="butt"/>
<path d="M201.35,153.42L225.33,152.58M220.83,152.74L222.50,157.48" fill="none" stroke="#000" stroke-width="1.8" stroke-linecap="butt"/>
<path d="M220.78,146.12L240.44,159.88M236.75,157.30L235.23,162.09" fill="none" stroke="#000" stroke-width="1.8" stroke-linecap="butt"/>
<circle cx="247.88" cy="153.0" r="3.55" fill="none" stroke="#000" stroke-width="1.85"/>
<circle cx="265.14" cy="153.0" r="3.55" fill="none" stroke="#000" stroke-width="1.85"/>
<circle cx="282.41" cy="153.0" r="3.55" fill="none" stroke="#000" stroke-width="1.85"/>
<circle cx="299.68" cy="153.0" r="3.55" fill="none" stroke="#000" stroke-width="1.85"/>
<circle cx="316.95" cy="153.0" r="3.55" fill="none" stroke="#000" stroke-width="1.85"/>
<path d="M322.48,150.51L345.95,155.49M341.55,154.56L342.02,159.57" fill="none" stroke="#000" stroke-width="1.8" stroke-linecap="butt"/>
<path d="M339.89,149.89L363.07,156.11M358.73,154.94L358.93,159.97" fill="none" stroke="#000" stroke-width="1.8" stroke-linecap="butt"/>
<path d="M357.79,148.12L379.71,157.88M375.60,156.05L375.02,161.05" fill="none" stroke="#000" stroke-width="1.8" stroke-linecap="butt"/>
<path d="M375.28,158.35L396.76,147.65M392.73,149.65L396.21,153.28" fill="none" stroke="#000" stroke-width="1.8" stroke-linecap="butt"/>
<circle cx="403.29" cy="153.0" r="3.55" fill="none" stroke="#000" stroke-width="1.85"/>
<circle cx="420.55" cy="153.0" r="3.55" fill="none" stroke="#000" stroke-width="1.85"/>
<circle cx="437.82" cy="153.0" r="3.55" fill="none" stroke="#000" stroke-width="1.85"/>
<circle cx="455.09" cy="153.0" r="3.55" fill="none" stroke="#000" stroke-width="1.85"/>
<path d="M460.52,151.02L484.19,154.98M479.75,154.24L480.44,159.22" fill="none" stroke="#000" stroke-width="1.8" stroke-linecap="butt"/>
<path d="M478.09,149.69L501.16,156.31M496.83,155.07L496.95,160.09" fill="none" stroke="#000" stroke-width="1.8" stroke-linecap="butt"/>
<path d="M495.62,148.90L518.17,157.10M513.94,155.57L513.71,160.59" fill="none" stroke="#000" stroke-width="1.8" stroke-linecap="butt"/>
<circle cx="524.16" cy="153.0" r="3.55" fill="none" stroke="#000" stroke-width="1.85"/>
<circle cx="541.43" cy="153.0" r="3.55" fill="none" stroke="#000" stroke-width="1.85"/>
<circle cx="558.70" cy="153.0" r="3.55" fill="none" stroke="#000" stroke-width="1.85"/>
<circle cx="575.96" cy="153.0" r="3.55" fill="none" stroke="#000" stroke-width="1.85"/>
<circle cx="593.23" cy="153.0" r="3.55" fill="none" stroke="#000" stroke-width="1.85"/>
<path d="M598.60,154.57L622.40,151.43M617.94,152.02L620.05,156.58" fill="none" stroke="#000" stroke-width="1.8" stroke-linecap="butt"/>
<path d="M615.78,153.63L639.75,152.37M635.26,152.61L637.01,157.32" fill="none" stroke="#000" stroke-width="1.8" stroke-linecap="butt"/>
<path d="M633.04,153.00L657.04,153.00M652.54,153.00L654.04,157.80" fill="none" stroke="#000" stroke-width="1.8" stroke-linecap="butt"/>
<circle cx="662.30" cy="153.0" r="3.55" fill="none" stroke="#000" stroke-width="1.85"/>
<circle cx="679.57" cy="153.0" r="3.55" fill="none" stroke="#000" stroke-width="1.85"/>
<circle cx="696.84" cy="153.0" r="3.55" fill="none" stroke="#000" stroke-width="1.85"/>
<circle cx="714.11" cy="153.0" r="3.55" fill="none" stroke="#000" stroke-width="1.85"/>
<circle cx="731.38" cy="153.0" r="3.55" fill="none" stroke="#000" stroke-width="1.85"/>
<path d="M736.66,152.37L760.63,153.63M756.13,153.39L757.38,158.26" fill="none" stroke="#000" stroke-width="1.8" stroke-linecap="butt"/>
<path d="M753.94,153.84L777.88,152.16M773.39,152.48L775.22,157.16" fill="none" stroke="#000" stroke-width="1.8" stroke-linecap="butt"/>
<path d="M771.18,153.00L795.18,153.00M790.68,153.00L792.18,157.80" fill="none" stroke="#000" stroke-width="1.8" stroke-linecap="butt"/>
<path d="M789.95,147.18L810.94,158.82M807.01,156.64L805.99,161.56" fill="none" stroke="#000" stroke-width="1.8" stroke-linecap="butt"/>
<path d="M805.90,150.92L829.53,155.08M825.10,154.30L825.74,159.29" fill="none" stroke="#000" stroke-width="1.8" stroke-linecap="butt"/>
<path d="M823.00,153.63L846.97,152.37M842.47,152.61L844.22,157.32" fill="none" stroke="#000" stroke-width="1.8" stroke-linecap="butt"/>
<circle cx="852.25" cy="153.0" r="3.55" fill="none" stroke="#000" stroke-width="1.85"/>
<path d="M857.53,152.58L881.51,153.42M877.01,153.26L878.34,158.11" fill="none" stroke="#000" stroke-width="1.8" stroke-linecap="butt"/>
<path d="M874.81,152.16L898.76,153.84M894.27,153.52L895.43,158.42" fill="none" stroke="#000" stroke-width="1.8" stroke-linecap="butt"/>
<path d="M892.27,150.71L915.83,155.29M911.42,154.43L911.97,159.43" fill="none" stroke="#000" stroke-width="1.8" stroke-linecap="butt"/>
<path d="M909.76,149.77L932.88,156.23M928.55,155.02L928.70,160.04" fill="none" stroke="#000" stroke-width="1.8" stroke-linecap="butt"/>
<path d="M928.09,147.18L949.08,158.82M945.15,156.64L944.13,161.56" fill="none" stroke="#000" stroke-width="1.8" stroke-linecap="butt"/>
<circle cx="955.86" cy="153.0" r="3.55" fill="none" stroke="#000" stroke-width="1.85"/>
<path d="M965.48,143.75L980.77,162.25M977.91,158.78L975.16,162.99" fill="none" stroke="#000" stroke-width="1.8" stroke-linecap="butt"/>
<circle cx="990.39" cy="153.0" r="3.55" fill="none" stroke="#000" stroke-width="1.85"/>
<circle cx="1007.66" cy="153.0" r="3.55" fill="none" stroke="#000" stroke-width="1.85"/>
<path d="M1033.20,144.31L1016.65,161.69M1019.76,158.43L1015.25,156.21" fill="none" stroke="#000" stroke-width="1.8" stroke-linecap="butt"/>
<path d="M1050.38,144.22L1034.01,161.78M1037.08,158.49L1032.55,156.31" fill="none" stroke="#000" stroke-width="1.8" stroke-linecap="butt"/>
<path d="M1068.20,144.77L1050.73,161.23M1054.01,158.14L1049.62,155.68" fill="none" stroke="#000" stroke-width="1.8" stroke-linecap="butt"/>
<path d="M1086.19,145.61L1067.28,160.39M1070.82,157.62L1066.68,154.76" fill="none" stroke="#000" stroke-width="1.8" stroke-linecap="butt"/>
<path d="M1103.53,145.71L1084.47,160.29M1088.04,157.56L1083.93,154.65" fill="none" stroke="#000" stroke-width="1.8" stroke-linecap="butt"/>
<text x="196.55" y="69.00" font-size="18.5" text-anchor="middle" fill="#000" stroke="#000" stroke-width="0.3" letter-spacing="0.95" >torek</text>
<text x="196.87" y="90.00" font-size="17.7" text-anchor="middle" fill="#000" stroke="#000" stroke-width="0.3" letter-spacing="1.6" >14.10</text>
<text x="161.64" y="376.80" font-size="17.7" text-anchor="middle" fill="#000" stroke="#000" stroke-width="0.3" letter-spacing="1.2" >06</text>
<text x="196.17" y="376.80" font-size="17.7" text-anchor="middle" fill="#000" stroke="#000" stroke-width="0.3" letter-spacing="1.2" >12</text>
<text x="230.71" y="376.80" font-size="17.7" text-anchor="middle" fill="#000" stroke="#000" stroke-width="0.3" letter-spacing="1.2" >18</text>
<text x="265.84" y="376.80" font-size="18.5" text-anchor="middle" fill="#000" stroke="#000" stroke-width="0.3" letter-spacing="0.8" >sre</text>
<text x="334.69" y="69.00" font-size="18.5" text-anchor="middle" fill="#000" stroke="#000" stroke-width="0.3" letter-spacing="0.95" >sreda</text>
<text x="335.01" y="90.00" font-size="17.7" text-anchor="middle" fill="#000" stroke="#000" stroke-width="0.3" letter-spacing="1.6" >15.10</text>
<text x="299.78" y="376.80" font-size="17.7" text-anchor="middle" fill="#000" stroke="#000" stroke-width="0.3" letter-spacing="1.2" >06</text>
<text x="334.31" y="376.80" font-size="17.7" text-anchor="middle" fill="#000" stroke="#000" stroke-width="0.3" letter-spacing="1.2" >12</text>
<text x="368.85" y="376.80" font-size="17.7" text-anchor="middle" fill="#000" stroke="#000" stroke-width="0.3" letter-spacing="1.2" >18</text>
<text x="403.99" y="376.80" font-size="18.5" text-anchor="middle" fill="#000" stroke="#000" stroke-width="0.3" letter-spacing="0.8" >čet</text>
<text x="472.83" y="69.00" font-size="18.5" text-anchor="middle" fill="#000" stroke="#000" stroke-width="0.3" letter-spacing="0.95" >četrtek</text>
<text x="473.16" y="90.00" font-size="17.7" text-anchor="middle" fill="#000" stroke="#000" stroke-width="0.3" letter-spacing="1.6" >16.10</text>
<text x="437.92" y="376.80" font-size="17.7" text-anchor="middle" fill="#000" stroke="#000" stroke-width="0.3" letter-spacing="1.2" >06</text>
<text x="472.46" y="376.80" font-size="17.7" text-anchor="middle" fill="#000" stroke="#000" stroke-width="0.3" letter-spacing="1.2" >12</text>
<text x="506.99" y="376.80" font-size="17.7" text-anchor="middle" fill="#000" stroke="#000" stroke-width="0.3" letter-spacing="1.2" >18</text>
<text x="542.13" y="376.80" font-size="18.5" text-anchor="middle" fill="#000" stroke="#000" stroke-width="0.3" letter-spacing="0.8" >pet</text>
<text x="610.98" y="69.00" font-size="18.5" text-anchor="middle" fill="#000" stroke="#000" stroke-width="0.3" letter-spacing="0.95" >petek</text>
<text x="611.30" y="90.00" font-size="17.7" text-anchor="middle" fill="#000" stroke="#000" stroke-width="0.3" letter-spacing="1.6" >17.10</text>
<text x="576.06" y="376.80" font-size="17.7" text-anchor="middle" fill="#000" stroke="#000" stroke-width="0.3" letter-spacing="1.2" >06</text>
<text x="610.60" y="376.80" font-size="17.7" text-anchor="middle" fill="#000" stroke="#000" stroke-width="0.3" letter-spacing="1.2" >12</text>
<text x="645.14" y="376.80" font-size="17.7" text-anchor="middle" fill="#000" stroke="#000" stroke-width="0.3" letter-spacing="1.2" >18</text>
<text x="680.27" y="376.80" font-size="18.5" text-anchor="middle" fill="#000" stroke="#000" stroke-width="0.3" letter-spacing="0.8" >sob</text>
<text x="749.12" y="69.00" font-size="18.5" text-anchor="middle" fill="#cc0000" stroke="#cc0000" stroke-width="0.3" letter-spacing="0.95" >sobota</text>
<text x="749.44" y="90.00" font-size="17.7" text-anchor="middle" fill="#cc0000" stroke="#cc0000" stroke-width="0.3" letter-spacing="1.6" >18.10</text>
<text x="714.21" y="376.80" font-size="17.7" text-anchor="middle" fill="#000" stroke="#000" stroke-width="0.3" letter-spacing="1.2" >06</text>
<text x="748.74" y="376.80" font-size="17.7" text-anchor="middle" fill="#000" stroke="#000" stroke-width="0.3" letter-spacing="1.2" >12</text>
<text x="783.28" y="376.80" font-size="17.7" text-anchor="middle" fill="#000" stroke="#000" stroke-width="0.3" letter-spacing="1.2" >18</text>
<text x="818.41" y="376.80" font-size="18.5" text-anchor="middle" fill="#000" stroke="#000" stroke-width="0.3" letter-spacing="0.8" >ned</text>
<text x="887.26" y="69.00" font-size="18.5" text-anchor="middle" fill="#cc0000" stroke="#cc0000" stroke-width="0.3" letter-spacing="0.95" >nedelja</text>
<text x="887.59" y="90.00" font-size="17.7" text-anchor="middle" fill="#cc0000" stroke="#cc0000" stroke-width="0.3" letter-spacing="1.6" >19.10</text>
<text x="852.35" y="376.80" font-size="17.7" text-anchor="middle" fill="#000" stroke="#000" stroke-width="0.3" letter-spacing="1.2" >06</text>
<text x="886.89" y="376.80" font-size="17.7" text-anchor="middle" fill="#000" stroke="#000" stroke-width="0.3" letter-spacing="1.2" >12</text>
<text x="921.42" y="376.80" font-size="17.7" text-anchor="middle" fill="#000" stroke="#000" stroke-width="0.3" letter-spacing="1.2" >18</text>
<text x="956.56" y="376.80" font-size="18.5" text-anchor="middle" fill="#000" stroke="#000" stroke-width="0.3" letter-spacing="0.8" >pon</text>
<text x="1025.40" y="69.00" font-size="18.5" text-anchor="middle" fill="#000" stroke="#000" stroke-width="0.3" letter-spacing="0.95" >ponedeljek</text>
<text x="1025.73" y="90.00" font-size="17.7" text-anchor="middle" fill="#000" stroke="#000" stroke-width="0.3" letter-spacing="1.6" >20.10</text>
<text x="990.49" y="376.80" font-size="17.7" text-anchor="middle" fill="#000" stroke="#000" stroke-width="0.3" letter-spacing="1.2" >06</text>
<text x="1025.03" y="376.80" font-size="17.7" text-anchor="middle" fill="#000" stroke="#000" stroke-width="0.3" letter-spacing="1.2" >12</text>
<text x="1059.56" y="376.80" font-size="17.7" text-anchor="middle" fill="#000" stroke="#000" stroke-width="0.3" letter-spacing="1.2" >18</text>
<text x="122.30" y="366.00" font-size="17.7" text-anchor="end" fill="#000" stroke="#000" stroke-width="0.3" letter-spacing="0" >0</text>
<text x="122.30" y="328.55" font-size="17.7" text-anchor="end" fill="#000" stroke="#000" stroke-width="0.3" letter-spacing="0" >1</text>
<text x="122.30" y="291.10" font-size="17.7" text-anchor="end" fill="#000" stroke="#000" stroke-width="0.3" letter-spacing="0" >2</text>
<text x="122.30" y="253.65" font-size="17.7" text-anchor="end" fill="#000" stroke="#000" stroke-width="0.3" letter-spacing="0" >3</text>
<text x="122.30" y="216.20" font-size="17.7" text-anchor="end" fill="#000" stroke="#000" stroke-width="0.3" letter-spacing="0" >4</text>
<text x="122.30" y="178.75" font-size="17.7" text-anchor="end" fill="#000" stroke="#000" stroke-width="0.3" letter-spacing="0" >5</text>
<text x="45.90" y="366.00" font-size="17.7" text-anchor="start" fill="#f50a0a" stroke="#f50a0a" stroke-width="0.3" letter-spacing="1.2" >-1</text>
<text x="45.90" y="328.55" font-size="17.7" text-anchor="start" fill="#f50a0a" stroke="#f50a0a" stroke-width="0.3" letter-spacing="1.2" >3</text>
<text x="45.90" y="291.10" font-size="17.7" text-anchor="start" fill="#f50a0a" stroke="#f50a0a" stroke-width="0.3" letter-spacing="1.2" >8</text>
<text x="45.90" y="253.65" font-size="17.7" text-anchor="start" fill="#f50a0a" stroke="#f50a0a" stroke-width="0.3" letter-spacing="1.2" >12</text>
<text x="45.90" y="216.20" font-size="17.7" text-anchor="start" fill="#f50a0a" stroke="#f50a0a" stroke-width="0.3" letter-spacing="1.2" >17</text>
<text x="45.90" y="178.75" font-size="17.7" text-anchor="start" fill="#f50a0a" stroke="#f50a0a" stroke-width="0.3" letter-spacing="1.2" >21</text>
<text x="1098.60" y="366.00" font-size="17.7" text-anchor="start" fill="#000" stroke="#000" stroke-width="0.3" letter-spacing="1.4" >0</text>
<text x="1098.60" y="328.55" font-size="17.7" text-anchor="start" fill="#000" stroke="#000" stroke-width="0.3" letter-spacing="1.4" >1.5</text>
<text x="1098.60" y="291.10" font-size="17.7" text-anchor="start" fill="#000" stroke="#000" stroke-width="0.3" letter-spacing="1.4" >3.5</text>
<text x="1098.60" y="253.65" font-size="17.7" text-anchor="start" fill="#000" stroke="#000" stroke-width="0.3" letter-spacing="1.4" >6.0</text>
<text x="1098.60" y="216.20" font-size="17.7" text-anchor="start" fill="#000" stroke="#000" stroke-width="0.3" letter-spacing="1.4" >9.0</text>
<text x="1098.60" y="178.75" font-size="17.7" text-anchor="start" fill="#000" stroke="#000" stroke-width="0.3" letter-spacing="1.4" >14</text>
<text transform="translate(35.3,266.4) rotate(-90)" font-size="21.4" text-anchor="middle" fill="#f50a0a">Temperatura (°C)</text>
<text transform="translate(100.2,263.2) rotate(-90)" font-size="19.4" text-anchor="middle" fill="#000" stroke="#000" stroke-width="0.3" letter-spacing="1.1">Padavine (mm/h)</text>
<text transform="translate(1143.0,253.4) rotate(-90)" font-size="19.4" text-anchor="middle" fill="#000" stroke="#000" stroke-width="0.3" letter-spacing="1.2">Višina oblakov (km)</text>
<text x="133.80" y="290.30" font-size="17.7" text-anchor="middle" fill="#000" stroke="#000" stroke-width="0.3" letter-spacing="1.2" >10</text>
<text x="214.30" y="233.90" font-size="17.7" text-anchor="middle" fill="#000" stroke="#000" stroke-width="0.3" letter-spacing="1.2" >16</text>
<text x="300.60" y="306.00" font-size="17.7" text-anchor="middle" fill="#000" stroke="#000" stroke-width="0.3" letter-spacing="1.2" >8</text>
<text x="345.90" y="235.60" font-size="17.7" text-anchor="middle" fill="#000" stroke="#000" stroke-width="0.3" letter-spacing="1.2" >16</text>
<text x="438.50" y="306.80" font-size="17.7" text-anchor="middle" fill="#000" stroke="#000" stroke-width="0.3" letter-spacing="1.2" >8</text>
<text x="490.40" y="247.70" font-size="17.7" text-anchor="middle" fill="#000" stroke="#000" stroke-width="0.3" letter-spacing="1.2" >15</text>
<text x="577.40" y="323.00" font-size="17.7" text-anchor="middle" fill="#000" stroke="#000" stroke-width="0.3" letter-spacing="1.2" >6</text>
<text x="628.40" y="251.80" font-size="17.7" text-anchor="middle" fill="#000" stroke="#000" stroke-width="0.3" letter-spacing="1.2" >14</text>
<text x="715.30" y="328.80" font-size="17.7" text-anchor="middle" fill="#000" stroke="#000" stroke-width="0.3" letter-spacing="1.2" >5</text>
<text x="767.00" y="258.80" font-size="17.7" text-anchor="middle" fill="#000" stroke="#000" stroke-width="0.3" letter-spacing="1.2" >13</text>
<text x="853.20" y="326.70" font-size="17.7" text-anchor="middle" fill="#000" stroke="#000" stroke-width="0.3" letter-spacing="1.2" >5</text>
<text x="905.10" y="274.90" font-size="17.7" text-anchor="middle" fill="#000" stroke="#000" stroke-width="0.3" letter-spacing="1.2" >11</text>
<text x="992.80" y="339.70" font-size="17.7" text-anchor="middle" fill="#000" stroke="#000" stroke-width="0.3" letter-spacing="1.2" >4</text>
<text x="1043.50" y="256.10" font-size="17.7" text-anchor="middle" fill="#000" stroke="#000" stroke-width="0.3" letter-spacing="1.2" >14</text>
<text x="1095.10" y="311.30" font-size="17.7" text-anchor="middle" fill="#000" stroke="#000" stroke-width="0.3" letter-spacing="1.2" >7</text>
<rect x="127" y="390" width="32" height="11" fill="#0044f8"/>
<rect x="165" y="386" width="105" height="19.5" fill="#fff"/>
<text x="168.2" y="402" font-size="19.2" fill="#000" letter-spacing="0.9">Dež</text>
<rect x="278" y="390" width="32" height="11" fill="#0fd6c2"/>
<rect x="310" y="386" width="110" height="19.5" fill="#fff"/>
<text x="317.9" y="402" font-size="19.2" fill="#000" letter-spacing="0.33">Možnost ploh</text>
<text x="499.5" y="402" font-size="15.75" fill="#0000ff">© vreme.us &amp; vreme.pro</text>
<rect x="760" y="386" width="180" height="19.5" fill="#fff"/>
<text x="759.3" y="402" font-size="19.2" fill="#000" letter-spacing="0.14">Gostota oblakov (%)</text>
<rect x="949.50" y="385.8" width="28.80" height="12.5" fill="#d2d2d2"/>
<rect x="978.00" y="385.8" width="29.30" height="12.5" fill="#b2b2b2"/>
<rect x="1007.00" y="385.8" width="29.30" height="12.5" fill="#949494"/>
<rect x="1036.00" y="385.8" width="29.30" height="12.5" fill="#787878"/>
<rect x="1065.00" y="385.8" width="29.80" height="12.5" fill="#585858"/>
<rect x="949.5" y="385.8" width="145.0" height="12.5" fill="none" stroke="#333" stroke-width="1"/>
<text x="950.12" y="415.00" font-size="16" text-anchor="middle" fill="#000" stroke="#000" stroke-width="0.3" letter-spacing="0.85" >10</text>
<text x="978.02" y="415.00" font-size="16" text-anchor="middle" fill="#000" stroke="#000" stroke-width="0.3" letter-spacing="0.85" >25</text>
<text x="1007.02" y="415.00" font-size="16" text-anchor="middle" fill="#000" stroke="#000" stroke-width="0.3" letter-spacing="0.85" >50</text>
<text x="1036.02" y="415.00" font-size="16" text-anchor="middle" fill="#000" stroke="#000" stroke-width="0.3" letter-spacing="0.85" >75</text>
<text x="1065.02" y="415.00" font-size="16" text-anchor="middle" fill="#000" stroke="#000" stroke-width="0.3" letter-spacing="0.85" >90</text>
<text x="1095.12" y="415.00" font-size="16" text-anchor="middle" fill="#000" stroke="#000" stroke-width="0.3" letter-spacing="0.85" >100</text>
</svg>
</body></html>
